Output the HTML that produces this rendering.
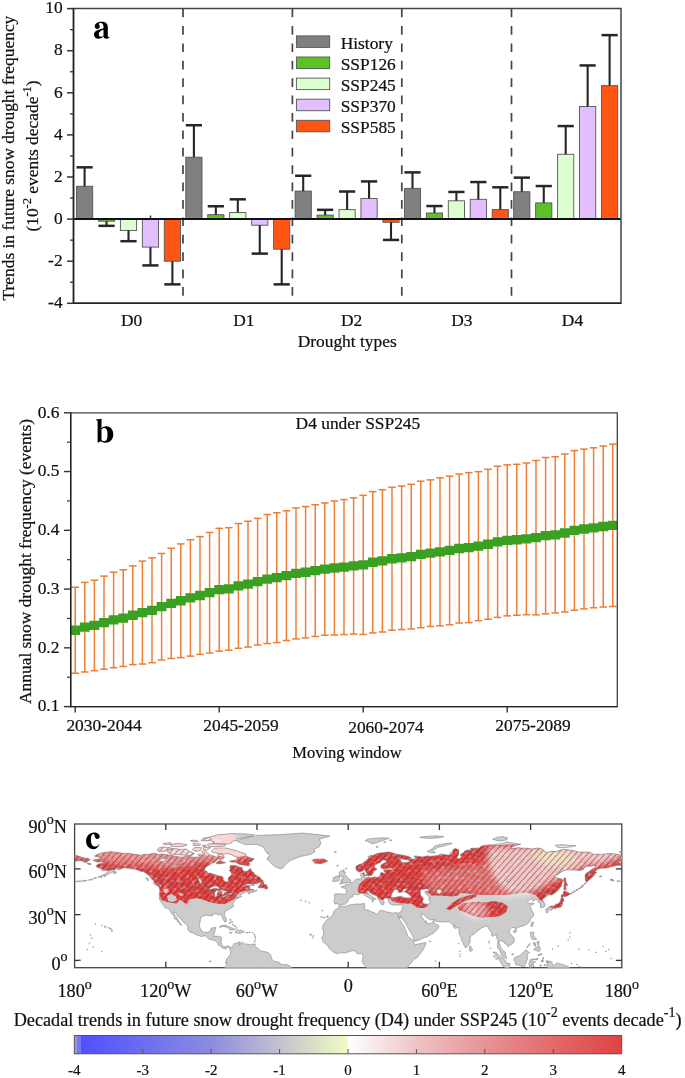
<!DOCTYPE html><html><head><meta charset="utf-8"><style>html,body{margin:0;padding:0;background:#fff;width:685px;height:1078px;overflow:hidden}svg{display:block;will-change:transform}text{font-family:"Liberation Serif",serif;fill:#111;stroke:#111;stroke-width:0.22px}</style></head><body><svg width="685" height="1078" viewBox="0 0 685 1078" font-family='"Liberation Serif", serif' fill="#111"><rect x="76.5" y="186.26" width="16.2" height="32.84" fill="#808080" stroke="#555" stroke-width="0.9" />
<line x1="84.6" y1="186.26" x2="84.6" y2="167.32" stroke="#262626" stroke-width="2.1" />
<line x1="76.5" y1="167.32" x2="92.7" y2="167.32" stroke="#262626" stroke-width="2.5" />
<rect x="98.45" y="219.1" width="16.2" height="2.1" fill="#5cc227" stroke="#555" stroke-width="0.9" />
<line x1="106.55" y1="221.2" x2="106.55" y2="225.84" stroke="#262626" stroke-width="2.1" />
<line x1="98.45" y1="225.84" x2="114.65" y2="225.84" stroke="#262626" stroke-width="2.5" />
<rect x="120.4" y="219.1" width="16.2" height="11.37" fill="#dcffd2" stroke="#555" stroke-width="0.9" />
<line x1="128.5" y1="230.47" x2="128.5" y2="241.2" stroke="#262626" stroke-width="2.1" />
<line x1="120.4" y1="241.2" x2="136.6" y2="241.2" stroke="#262626" stroke-width="2.5" />
<rect x="142.35" y="219.1" width="16.2" height="28" fill="#e4bfff" stroke="#555" stroke-width="0.9" />
<line x1="150.45" y1="247.1" x2="150.45" y2="265.41" stroke="#262626" stroke-width="2.1" />
<line x1="142.35" y1="265.41" x2="158.55" y2="265.41" stroke="#262626" stroke-width="2.5" />
<rect x="164.3" y="219.1" width="16.2" height="42.1" fill="#ff5616" stroke="#555" stroke-width="0.9" />
<line x1="172.4" y1="261.2" x2="172.4" y2="284.36" stroke="#262626" stroke-width="2.1" />
<line x1="164.3" y1="284.36" x2="180.5" y2="284.36" stroke="#262626" stroke-width="2.5" />
<rect x="185.8" y="157.21" width="16.2" height="61.89" fill="#808080" stroke="#555" stroke-width="0.9" />
<line x1="193.9" y1="157.21" x2="193.9" y2="125.22" stroke="#262626" stroke-width="2.1" />
<line x1="185.8" y1="125.22" x2="202" y2="125.22" stroke="#262626" stroke-width="2.5" />
<rect x="207.75" y="214.68" width="16.2" height="4.42" fill="#5cc227" stroke="#555" stroke-width="0.9" />
<line x1="215.85" y1="214.68" x2="215.85" y2="206.26" stroke="#262626" stroke-width="2.1" />
<line x1="207.75" y1="206.26" x2="223.95" y2="206.26" stroke="#262626" stroke-width="2.5" />
<rect x="229.7" y="212.57" width="16.2" height="6.53" fill="#dcffd2" stroke="#555" stroke-width="0.9" />
<line x1="237.8" y1="212.57" x2="237.8" y2="199.31" stroke="#262626" stroke-width="2.1" />
<line x1="229.7" y1="199.31" x2="245.9" y2="199.31" stroke="#262626" stroke-width="2.5" />
<rect x="251.65" y="219.1" width="16.2" height="6.1" fill="#e4bfff" stroke="#555" stroke-width="0.9" />
<line x1="259.75" y1="225.2" x2="259.75" y2="253.62" stroke="#262626" stroke-width="2.1" />
<line x1="251.65" y1="253.62" x2="267.85" y2="253.62" stroke="#262626" stroke-width="2.5" />
<rect x="273.6" y="219.1" width="16.2" height="30.1" fill="#ff5616" stroke="#555" stroke-width="0.9" />
<line x1="281.7" y1="249.2" x2="281.7" y2="284.36" stroke="#262626" stroke-width="2.1" />
<line x1="273.6" y1="284.36" x2="289.8" y2="284.36" stroke="#262626" stroke-width="2.5" />
<rect x="295.1" y="191.1" width="16.2" height="28" fill="#808080" stroke="#555" stroke-width="0.9" />
<line x1="303.2" y1="191.1" x2="303.2" y2="175.74" stroke="#262626" stroke-width="2.1" />
<line x1="295.1" y1="175.74" x2="311.3" y2="175.74" stroke="#262626" stroke-width="2.5" />
<rect x="317.05" y="215.1" width="16.2" height="4" fill="#5cc227" stroke="#555" stroke-width="0.9" />
<line x1="325.15" y1="215.1" x2="325.15" y2="209.84" stroke="#262626" stroke-width="2.1" />
<line x1="317.05" y1="209.84" x2="333.25" y2="209.84" stroke="#262626" stroke-width="2.5" />
<rect x="339" y="209.63" width="16.2" height="9.47" fill="#dcffd2" stroke="#555" stroke-width="0.9" />
<line x1="347.1" y1="209.63" x2="347.1" y2="191.52" stroke="#262626" stroke-width="2.1" />
<line x1="339" y1="191.52" x2="355.2" y2="191.52" stroke="#262626" stroke-width="2.5" />
<rect x="360.95" y="198.47" width="16.2" height="20.63" fill="#e4bfff" stroke="#555" stroke-width="0.9" />
<line x1="369.05" y1="198.47" x2="369.05" y2="181.42" stroke="#262626" stroke-width="2.1" />
<line x1="360.95" y1="181.42" x2="377.15" y2="181.42" stroke="#262626" stroke-width="2.5" />
<rect x="382.9" y="219.1" width="16.2" height="3.16" fill="#ff5616" stroke="#555" stroke-width="0.9" />
<line x1="391" y1="222.26" x2="391" y2="239.94" stroke="#262626" stroke-width="2.1" />
<line x1="382.9" y1="239.94" x2="399.1" y2="239.94" stroke="#262626" stroke-width="2.5" />
<rect x="404.4" y="188.37" width="16.2" height="30.73" fill="#808080" stroke="#555" stroke-width="0.9" />
<line x1="412.5" y1="188.37" x2="412.5" y2="172.37" stroke="#262626" stroke-width="2.1" />
<line x1="404.4" y1="172.37" x2="420.6" y2="172.37" stroke="#262626" stroke-width="2.5" />
<rect x="426.35" y="213" width="16.2" height="6.1" fill="#5cc227" stroke="#555" stroke-width="0.9" />
<line x1="434.45" y1="213" x2="434.45" y2="206.05" stroke="#262626" stroke-width="2.1" />
<line x1="426.35" y1="206.05" x2="442.55" y2="206.05" stroke="#262626" stroke-width="2.5" />
<rect x="448.3" y="200.79" width="16.2" height="18.31" fill="#dcffd2" stroke="#555" stroke-width="0.9" />
<line x1="456.4" y1="200.79" x2="456.4" y2="191.95" stroke="#262626" stroke-width="2.1" />
<line x1="448.3" y1="191.95" x2="464.5" y2="191.95" stroke="#262626" stroke-width="2.5" />
<rect x="470.25" y="199.31" width="16.2" height="19.79" fill="#e4bfff" stroke="#555" stroke-width="0.9" />
<line x1="478.35" y1="199.31" x2="478.35" y2="182.05" stroke="#262626" stroke-width="2.1" />
<line x1="470.25" y1="182.05" x2="486.45" y2="182.05" stroke="#262626" stroke-width="2.5" />
<rect x="492.2" y="209.63" width="16.2" height="9.47" fill="#ff5616" stroke="#555" stroke-width="0.9" />
<line x1="500.3" y1="209.63" x2="500.3" y2="187.31" stroke="#262626" stroke-width="2.1" />
<line x1="492.2" y1="187.31" x2="508.4" y2="187.31" stroke="#262626" stroke-width="2.5" />
<rect x="513.7" y="191.73" width="16.2" height="27.37" fill="#808080" stroke="#555" stroke-width="0.9" />
<line x1="521.8" y1="191.73" x2="521.8" y2="177.63" stroke="#262626" stroke-width="2.1" />
<line x1="513.7" y1="177.63" x2="529.9" y2="177.63" stroke="#262626" stroke-width="2.5" />
<rect x="535.65" y="202.89" width="16.2" height="16.21" fill="#5cc227" stroke="#555" stroke-width="0.9" />
<line x1="543.75" y1="202.89" x2="543.75" y2="186.05" stroke="#262626" stroke-width="2.1" />
<line x1="535.65" y1="186.05" x2="551.85" y2="186.05" stroke="#262626" stroke-width="2.5" />
<rect x="557.6" y="154.27" width="16.2" height="64.83" fill="#dcffd2" stroke="#555" stroke-width="0.9" />
<line x1="565.7" y1="154.27" x2="565.7" y2="126.06" stroke="#262626" stroke-width="2.1" />
<line x1="557.6" y1="126.06" x2="573.8" y2="126.06" stroke="#262626" stroke-width="2.5" />
<rect x="579.55" y="106.48" width="16.2" height="112.62" fill="#e4bfff" stroke="#555" stroke-width="0.9" />
<line x1="587.65" y1="106.48" x2="587.65" y2="65.44" stroke="#262626" stroke-width="2.1" />
<line x1="579.55" y1="65.44" x2="595.75" y2="65.44" stroke="#262626" stroke-width="2.5" />
<rect x="601.5" y="85.64" width="16.2" height="133.46" fill="#ff5616" stroke="#555" stroke-width="0.9" />
<line x1="609.6" y1="85.64" x2="609.6" y2="35.12" stroke="#262626" stroke-width="2.1" />
<line x1="601.5" y1="35.12" x2="617.7" y2="35.12" stroke="#262626" stroke-width="2.5" />
<line x1="150.45" y1="219.1" x2="150.45" y2="215.52" stroke="#333" stroke-width="1.5" />
<line x1="183" y1="8.6" x2="183" y2="303.3" stroke="#444" stroke-width="1.7" stroke-dasharray="8.7 8.7"/>
<line x1="292.4" y1="8.6" x2="292.4" y2="303.3" stroke="#444" stroke-width="1.7" stroke-dasharray="8.7 8.7"/>
<line x1="401.8" y1="8.6" x2="401.8" y2="303.3" stroke="#444" stroke-width="1.7" stroke-dasharray="8.7 8.7"/>
<line x1="511.5" y1="8.6" x2="511.5" y2="303.3" stroke="#444" stroke-width="1.7" stroke-dasharray="8.7 8.7"/>
<line x1="73.5" y1="219.1" x2="621" y2="219.1" stroke="#111" stroke-width="2" />
<path d="M73.5 8.6H621V303.3H73.5Z" fill="none" stroke="#444" stroke-width="1.5"/>
<line x1="73.5" y1="7.9" x2="73.5" y2="304" stroke="#222" stroke-width="1.5" />
<line x1="73.5" y1="303.3" x2="621" y2="303.3" stroke="#222" stroke-width="1.5" />
<line x1="67" y1="303.3" x2="73.5" y2="303.3" stroke="#333" stroke-width="1.5" />
<text x="62.6" y="308" font-size="17.4" text-anchor="end" font-weight="normal" >-4</text>
<line x1="70" y1="282.25" x2="73.5" y2="282.25" stroke="#333" stroke-width="1.3" />
<line x1="67" y1="261.2" x2="73.5" y2="261.2" stroke="#333" stroke-width="1.5" />
<text x="62.6" y="265.9" font-size="17.4" text-anchor="end" font-weight="normal" >-2</text>
<line x1="70" y1="240.15" x2="73.5" y2="240.15" stroke="#333" stroke-width="1.3" />
<line x1="67" y1="219.1" x2="73.5" y2="219.1" stroke="#333" stroke-width="1.5" />
<text x="62.6" y="223.8" font-size="17.4" text-anchor="end" font-weight="normal" >0</text>
<line x1="70" y1="198.05" x2="73.5" y2="198.05" stroke="#333" stroke-width="1.3" />
<line x1="67" y1="177" x2="73.5" y2="177" stroke="#333" stroke-width="1.5" />
<text x="62.6" y="181.7" font-size="17.4" text-anchor="end" font-weight="normal" >2</text>
<line x1="70" y1="155.95" x2="73.5" y2="155.95" stroke="#333" stroke-width="1.3" />
<line x1="67" y1="134.9" x2="73.5" y2="134.9" stroke="#333" stroke-width="1.5" />
<text x="62.6" y="139.6" font-size="17.4" text-anchor="end" font-weight="normal" >4</text>
<line x1="70" y1="113.85" x2="73.5" y2="113.85" stroke="#333" stroke-width="1.3" />
<line x1="67" y1="92.8" x2="73.5" y2="92.8" stroke="#333" stroke-width="1.5" />
<text x="62.6" y="97.5" font-size="17.4" text-anchor="end" font-weight="normal" >6</text>
<line x1="70" y1="71.75" x2="73.5" y2="71.75" stroke="#333" stroke-width="1.3" />
<line x1="67" y1="50.7" x2="73.5" y2="50.7" stroke="#333" stroke-width="1.5" />
<text x="62.6" y="55.4" font-size="17.4" text-anchor="end" font-weight="normal" >8</text>
<line x1="70" y1="29.65" x2="73.5" y2="29.65" stroke="#333" stroke-width="1.3" />
<line x1="67" y1="8.6" x2="73.5" y2="8.6" stroke="#333" stroke-width="1.5" />
<text x="62.6" y="13.3" font-size="17.4" text-anchor="end" font-weight="normal" >10</text>
<rect x="296.4" y="35.9" width="33.3" height="11.5" fill="#808080" stroke="#555" stroke-width="0.9" />
<text x="340.7" y="48.6" font-size="17.4" text-anchor="start" font-weight="normal" >History</text>
<rect x="296.4" y="57" width="33.3" height="11.5" fill="#5cc227" stroke="#555" stroke-width="0.9" />
<text x="340.7" y="69.7" font-size="17.4" text-anchor="start" font-weight="normal" >SSP126</text>
<rect x="296.4" y="78.1" width="33.3" height="11.5" fill="#dcffd2" stroke="#555" stroke-width="0.9" />
<text x="340.7" y="90.8" font-size="17.4" text-anchor="start" font-weight="normal" >SSP245</text>
<rect x="296.4" y="99.2" width="33.3" height="11.5" fill="#e4bfff" stroke="#555" stroke-width="0.9" />
<text x="340.7" y="111.9" font-size="17.4" text-anchor="start" font-weight="normal" >SSP370</text>
<rect x="296.4" y="120.3" width="33.3" height="11.5" fill="#ff5616" stroke="#555" stroke-width="0.9" />
<text x="340.7" y="133" font-size="17.4" text-anchor="start" font-weight="normal" >SSP585</text>
<text x="131.6" y="325.6" font-size="17.4" text-anchor="middle" font-weight="normal" >D0</text>
<text x="243.9" y="325.6" font-size="17.4" text-anchor="middle" font-weight="normal" >D1</text>
<text x="351.7" y="325.6" font-size="17.4" text-anchor="middle" font-weight="normal" >D2</text>
<text x="461.9" y="325.6" font-size="17.4" text-anchor="middle" font-weight="normal" >D3</text>
<text x="572.5" y="325.6" font-size="17.4" text-anchor="middle" font-weight="normal" >D4</text>
<text x="347.2" y="346.6" font-size="17.4" text-anchor="middle" font-weight="normal" >Drought types</text>
<path transform="translate(94,21.7)" fill-rule="evenodd" fill="#000" d="M0.8 4.5C0.8 1.5 4 0 7.5 0C11.5 0 13.8 1.8 13.8 5.5L13.8 13.5C13.8 14.8 14.2 15.3 15 15.3L16 14.6C15 16.5 13.8 17 12.5 17C10.5 17 9.7 16 9.5 14.8C8 16.3 6.3 17 4.5 17C1.8 17 0 15.4 0 12.8C0 10.5 1.5 9.3 4 8.3C5.8 7.6 7.8 7 9.5 6.6L9.5 5.2C9.5 2.5 8.5 1.3 6.8 1.3C5.5 1.3 4.8 1.8 4.6 2.6C5.3 3 5.8 3.8 5.8 4.8C5.8 6.2 4.6 7.2 3.3 7.2C1.8 7.2 0.8 6.2 0.8 4.5Z M9.5 8C6.5 9 4.8 10.2 4.8 12.6C4.8 14.3 5.8 15.1 7 15.1C8 15.1 8.9 14.6 9.5 14Z"/>
<text transform="translate(13.8,158.1) rotate(-90)" font-size="17.4" text-anchor="middle">Trends in future snow drought frequency</text>
<text transform="translate(38.2,156) rotate(-90)" font-size="17.4" text-anchor="middle">(10<tspan dy="-6.8" font-size="12.5">-2</tspan><tspan dy="6.8"> events decade</tspan><tspan dy="-6.8" font-size="12.5">-1</tspan><tspan dy="6.8">)</tspan></text>
<line x1="75.2" y1="587.2" x2="75.2" y2="673.28" stroke="#ed7d31" stroke-width="1.5" />
<line x1="71.4" y1="587.2" x2="79" y2="587.2" stroke="#ed7d31" stroke-width="1.5" />
<line x1="71.4" y1="673.28" x2="79" y2="673.28" stroke="#ed7d31" stroke-width="1.5" />
<line x1="84.8" y1="582.39" x2="84.8" y2="671.99" stroke="#ed7d31" stroke-width="1.5" />
<line x1="81" y1="582.39" x2="88.6" y2="582.39" stroke="#ed7d31" stroke-width="1.5" />
<line x1="81" y1="671.99" x2="88.6" y2="671.99" stroke="#ed7d31" stroke-width="1.5" />
<line x1="94.4" y1="580.22" x2="94.4" y2="670.7" stroke="#ed7d31" stroke-width="1.5" />
<line x1="90.6" y1="580.22" x2="98.2" y2="580.22" stroke="#ed7d31" stroke-width="1.5" />
<line x1="90.6" y1="670.7" x2="98.2" y2="670.7" stroke="#ed7d31" stroke-width="1.5" />
<line x1="104" y1="576.11" x2="104" y2="669.17" stroke="#ed7d31" stroke-width="1.5" />
<line x1="100.2" y1="576.11" x2="107.8" y2="576.11" stroke="#ed7d31" stroke-width="1.5" />
<line x1="100.2" y1="669.17" x2="107.8" y2="669.17" stroke="#ed7d31" stroke-width="1.5" />
<line x1="113.6" y1="572.18" x2="113.6" y2="667.71" stroke="#ed7d31" stroke-width="1.5" />
<line x1="109.8" y1="572.18" x2="117.4" y2="572.18" stroke="#ed7d31" stroke-width="1.5" />
<line x1="109.8" y1="667.71" x2="117.4" y2="667.71" stroke="#ed7d31" stroke-width="1.5" />
<line x1="123.2" y1="569.78" x2="123.2" y2="666.48" stroke="#ed7d31" stroke-width="1.5" />
<line x1="119.4" y1="569.78" x2="127" y2="569.78" stroke="#ed7d31" stroke-width="1.5" />
<line x1="119.4" y1="666.48" x2="127" y2="666.48" stroke="#ed7d31" stroke-width="1.5" />
<line x1="132.8" y1="565.91" x2="132.8" y2="664.6" stroke="#ed7d31" stroke-width="1.5" />
<line x1="129" y1="565.91" x2="136.6" y2="565.91" stroke="#ed7d31" stroke-width="1.5" />
<line x1="129" y1="664.6" x2="136.6" y2="664.6" stroke="#ed7d31" stroke-width="1.5" />
<line x1="142.4" y1="561.1" x2="142.4" y2="664.01" stroke="#ed7d31" stroke-width="1.5" />
<line x1="138.6" y1="561.1" x2="146.2" y2="561.1" stroke="#ed7d31" stroke-width="1.5" />
<line x1="138.6" y1="664.01" x2="146.2" y2="664.01" stroke="#ed7d31" stroke-width="1.5" />
<line x1="152" y1="557.88" x2="152" y2="662.72" stroke="#ed7d31" stroke-width="1.5" />
<line x1="148.2" y1="557.88" x2="155.8" y2="557.88" stroke="#ed7d31" stroke-width="1.5" />
<line x1="148.2" y1="662.72" x2="155.8" y2="662.72" stroke="#ed7d31" stroke-width="1.5" />
<line x1="161.6" y1="553.48" x2="161.6" y2="659.97" stroke="#ed7d31" stroke-width="1.5" />
<line x1="157.8" y1="553.48" x2="165.4" y2="553.48" stroke="#ed7d31" stroke-width="1.5" />
<line x1="157.8" y1="659.97" x2="165.4" y2="659.97" stroke="#ed7d31" stroke-width="1.5" />
<line x1="171.2" y1="548.2" x2="171.2" y2="658.5" stroke="#ed7d31" stroke-width="1.5" />
<line x1="167.4" y1="548.2" x2="175" y2="548.2" stroke="#ed7d31" stroke-width="1.5" />
<line x1="167.4" y1="658.5" x2="175" y2="658.5" stroke="#ed7d31" stroke-width="1.5" />
<line x1="180.8" y1="543.92" x2="180.8" y2="657.62" stroke="#ed7d31" stroke-width="1.5" />
<line x1="177" y1="543.92" x2="184.6" y2="543.92" stroke="#ed7d31" stroke-width="1.5" />
<line x1="177" y1="657.62" x2="184.6" y2="657.62" stroke="#ed7d31" stroke-width="1.5" />
<line x1="190.4" y1="539.81" x2="190.4" y2="656.1" stroke="#ed7d31" stroke-width="1.5" />
<line x1="186.6" y1="539.81" x2="194.2" y2="539.81" stroke="#ed7d31" stroke-width="1.5" />
<line x1="186.6" y1="656.1" x2="194.2" y2="656.1" stroke="#ed7d31" stroke-width="1.5" />
<line x1="200" y1="536.59" x2="200" y2="654.4" stroke="#ed7d31" stroke-width="1.5" />
<line x1="196.2" y1="536.59" x2="203.8" y2="536.59" stroke="#ed7d31" stroke-width="1.5" />
<line x1="196.2" y1="654.4" x2="203.8" y2="654.4" stroke="#ed7d31" stroke-width="1.5" />
<line x1="209.6" y1="532.43" x2="209.6" y2="652.99" stroke="#ed7d31" stroke-width="1.5" />
<line x1="205.8" y1="532.43" x2="213.4" y2="532.43" stroke="#ed7d31" stroke-width="1.5" />
<line x1="205.8" y1="652.99" x2="213.4" y2="652.99" stroke="#ed7d31" stroke-width="1.5" />
<line x1="219.2" y1="528.32" x2="219.2" y2="651.11" stroke="#ed7d31" stroke-width="1.5" />
<line x1="215.4" y1="528.32" x2="223" y2="528.32" stroke="#ed7d31" stroke-width="1.5" />
<line x1="215.4" y1="651.11" x2="223" y2="651.11" stroke="#ed7d31" stroke-width="1.5" />
<line x1="228.8" y1="527.68" x2="228.8" y2="650.17" stroke="#ed7d31" stroke-width="1.5" />
<line x1="225" y1="527.68" x2="232.6" y2="527.68" stroke="#ed7d31" stroke-width="1.5" />
<line x1="225" y1="650.17" x2="232.6" y2="650.17" stroke="#ed7d31" stroke-width="1.5" />
<line x1="238.4" y1="523.57" x2="238.4" y2="648.3" stroke="#ed7d31" stroke-width="1.5" />
<line x1="234.6" y1="523.57" x2="242.2" y2="523.57" stroke="#ed7d31" stroke-width="1.5" />
<line x1="234.6" y1="648.3" x2="242.2" y2="648.3" stroke="#ed7d31" stroke-width="1.5" />
<line x1="248" y1="521.23" x2="248" y2="647.01" stroke="#ed7d31" stroke-width="1.5" />
<line x1="244.2" y1="521.23" x2="251.8" y2="521.23" stroke="#ed7d31" stroke-width="1.5" />
<line x1="244.2" y1="647.01" x2="251.8" y2="647.01" stroke="#ed7d31" stroke-width="1.5" />
<line x1="257.6" y1="518.41" x2="257.6" y2="645.01" stroke="#ed7d31" stroke-width="1.5" />
<line x1="253.8" y1="518.41" x2="261.4" y2="518.41" stroke="#ed7d31" stroke-width="1.5" />
<line x1="253.8" y1="645.01" x2="261.4" y2="645.01" stroke="#ed7d31" stroke-width="1.5" />
<line x1="267.2" y1="514.54" x2="267.2" y2="643.55" stroke="#ed7d31" stroke-width="1.5" />
<line x1="263.4" y1="514.54" x2="271" y2="514.54" stroke="#ed7d31" stroke-width="1.5" />
<line x1="263.4" y1="643.55" x2="271" y2="643.55" stroke="#ed7d31" stroke-width="1.5" />
<line x1="276.8" y1="512.72" x2="276.8" y2="642.61" stroke="#ed7d31" stroke-width="1.5" />
<line x1="273" y1="512.72" x2="280.6" y2="512.72" stroke="#ed7d31" stroke-width="1.5" />
<line x1="273" y1="642.61" x2="280.6" y2="642.61" stroke="#ed7d31" stroke-width="1.5" />
<line x1="286.4" y1="510.73" x2="286.4" y2="640.5" stroke="#ed7d31" stroke-width="1.5" />
<line x1="282.6" y1="510.73" x2="290.2" y2="510.73" stroke="#ed7d31" stroke-width="1.5" />
<line x1="282.6" y1="640.5" x2="290.2" y2="640.5" stroke="#ed7d31" stroke-width="1.5" />
<line x1="296" y1="507.91" x2="296" y2="638.92" stroke="#ed7d31" stroke-width="1.5" />
<line x1="292.2" y1="507.91" x2="299.8" y2="507.91" stroke="#ed7d31" stroke-width="1.5" />
<line x1="292.2" y1="638.92" x2="299.8" y2="638.92" stroke="#ed7d31" stroke-width="1.5" />
<line x1="305.6" y1="506.62" x2="305.6" y2="637.92" stroke="#ed7d31" stroke-width="1.5" />
<line x1="301.8" y1="506.62" x2="309.4" y2="506.62" stroke="#ed7d31" stroke-width="1.5" />
<line x1="301.8" y1="637.92" x2="309.4" y2="637.92" stroke="#ed7d31" stroke-width="1.5" />
<line x1="315.2" y1="504.69" x2="315.2" y2="636.51" stroke="#ed7d31" stroke-width="1.5" />
<line x1="311.4" y1="504.69" x2="319" y2="504.69" stroke="#ed7d31" stroke-width="1.5" />
<line x1="311.4" y1="636.51" x2="319" y2="636.51" stroke="#ed7d31" stroke-width="1.5" />
<line x1="324.8" y1="502.93" x2="324.8" y2="635.22" stroke="#ed7d31" stroke-width="1.5" />
<line x1="321" y1="502.93" x2="328.6" y2="502.93" stroke="#ed7d31" stroke-width="1.5" />
<line x1="321" y1="635.22" x2="328.6" y2="635.22" stroke="#ed7d31" stroke-width="1.5" />
<line x1="334.4" y1="500.99" x2="334.4" y2="634.99" stroke="#ed7d31" stroke-width="1.5" />
<line x1="330.6" y1="500.99" x2="338.2" y2="500.99" stroke="#ed7d31" stroke-width="1.5" />
<line x1="330.6" y1="634.99" x2="338.2" y2="634.99" stroke="#ed7d31" stroke-width="1.5" />
<line x1="344" y1="499.53" x2="344" y2="634.58" stroke="#ed7d31" stroke-width="1.5" />
<line x1="340.2" y1="499.53" x2="347.8" y2="499.53" stroke="#ed7d31" stroke-width="1.5" />
<line x1="340.2" y1="634.58" x2="347.8" y2="634.58" stroke="#ed7d31" stroke-width="1.5" />
<line x1="353.6" y1="497.89" x2="353.6" y2="634.05" stroke="#ed7d31" stroke-width="1.5" />
<line x1="349.8" y1="497.89" x2="357.4" y2="497.89" stroke="#ed7d31" stroke-width="1.5" />
<line x1="349.8" y1="634.05" x2="357.4" y2="634.05" stroke="#ed7d31" stroke-width="1.5" />
<line x1="363.2" y1="495.31" x2="363.2" y2="634.4" stroke="#ed7d31" stroke-width="1.5" />
<line x1="359.4" y1="495.31" x2="367" y2="495.31" stroke="#ed7d31" stroke-width="1.5" />
<line x1="359.4" y1="634.4" x2="367" y2="634.4" stroke="#ed7d31" stroke-width="1.5" />
<line x1="372.8" y1="491.61" x2="372.8" y2="632.88" stroke="#ed7d31" stroke-width="1.5" />
<line x1="369" y1="491.61" x2="376.6" y2="491.61" stroke="#ed7d31" stroke-width="1.5" />
<line x1="369" y1="632.88" x2="376.6" y2="632.88" stroke="#ed7d31" stroke-width="1.5" />
<line x1="382.4" y1="489.68" x2="382.4" y2="632" stroke="#ed7d31" stroke-width="1.5" />
<line x1="378.6" y1="489.68" x2="386.2" y2="489.68" stroke="#ed7d31" stroke-width="1.5" />
<line x1="378.6" y1="632" x2="386.2" y2="632" stroke="#ed7d31" stroke-width="1.5" />
<line x1="392" y1="487.27" x2="392" y2="630.18" stroke="#ed7d31" stroke-width="1.5" />
<line x1="388.2" y1="487.27" x2="395.8" y2="487.27" stroke="#ed7d31" stroke-width="1.5" />
<line x1="388.2" y1="630.18" x2="395.8" y2="630.18" stroke="#ed7d31" stroke-width="1.5" />
<line x1="401.6" y1="485.98" x2="401.6" y2="629.59" stroke="#ed7d31" stroke-width="1.5" />
<line x1="397.8" y1="485.98" x2="405.4" y2="485.98" stroke="#ed7d31" stroke-width="1.5" />
<line x1="397.8" y1="629.59" x2="405.4" y2="629.59" stroke="#ed7d31" stroke-width="1.5" />
<line x1="411.2" y1="484.22" x2="411.2" y2="628.89" stroke="#ed7d31" stroke-width="1.5" />
<line x1="407.4" y1="484.22" x2="415" y2="484.22" stroke="#ed7d31" stroke-width="1.5" />
<line x1="407.4" y1="628.89" x2="415" y2="628.89" stroke="#ed7d31" stroke-width="1.5" />
<line x1="420.8" y1="481.17" x2="420.8" y2="627.77" stroke="#ed7d31" stroke-width="1.5" />
<line x1="417" y1="481.17" x2="424.6" y2="481.17" stroke="#ed7d31" stroke-width="1.5" />
<line x1="417" y1="627.77" x2="424.6" y2="627.77" stroke="#ed7d31" stroke-width="1.5" />
<line x1="430.4" y1="479.88" x2="430.4" y2="626.48" stroke="#ed7d31" stroke-width="1.5" />
<line x1="426.6" y1="479.88" x2="434.2" y2="479.88" stroke="#ed7d31" stroke-width="1.5" />
<line x1="426.6" y1="626.48" x2="434.2" y2="626.48" stroke="#ed7d31" stroke-width="1.5" />
<line x1="440" y1="477.83" x2="440" y2="625.78" stroke="#ed7d31" stroke-width="1.5" />
<line x1="436.2" y1="477.83" x2="443.8" y2="477.83" stroke="#ed7d31" stroke-width="1.5" />
<line x1="436.2" y1="625.78" x2="443.8" y2="625.78" stroke="#ed7d31" stroke-width="1.5" />
<line x1="449.6" y1="476.13" x2="449.6" y2="624.72" stroke="#ed7d31" stroke-width="1.5" />
<line x1="445.8" y1="476.13" x2="453.4" y2="476.13" stroke="#ed7d31" stroke-width="1.5" />
<line x1="445.8" y1="624.72" x2="453.4" y2="624.72" stroke="#ed7d31" stroke-width="1.5" />
<line x1="459.2" y1="474.02" x2="459.2" y2="623.02" stroke="#ed7d31" stroke-width="1.5" />
<line x1="455.4" y1="474.02" x2="463" y2="474.02" stroke="#ed7d31" stroke-width="1.5" />
<line x1="455.4" y1="623.02" x2="463" y2="623.02" stroke="#ed7d31" stroke-width="1.5" />
<line x1="468.8" y1="472.67" x2="468.8" y2="622.61" stroke="#ed7d31" stroke-width="1.5" />
<line x1="465" y1="472.67" x2="472.6" y2="472.67" stroke="#ed7d31" stroke-width="1.5" />
<line x1="465" y1="622.61" x2="472.6" y2="622.61" stroke="#ed7d31" stroke-width="1.5" />
<line x1="478.4" y1="471.67" x2="478.4" y2="620.68" stroke="#ed7d31" stroke-width="1.5" />
<line x1="474.6" y1="471.67" x2="482.2" y2="471.67" stroke="#ed7d31" stroke-width="1.5" />
<line x1="474.6" y1="620.68" x2="482.2" y2="620.68" stroke="#ed7d31" stroke-width="1.5" />
<line x1="488" y1="469.27" x2="488" y2="619.21" stroke="#ed7d31" stroke-width="1.5" />
<line x1="484.2" y1="469.27" x2="491.8" y2="469.27" stroke="#ed7d31" stroke-width="1.5" />
<line x1="484.2" y1="619.21" x2="491.8" y2="619.21" stroke="#ed7d31" stroke-width="1.5" />
<line x1="497.6" y1="466.22" x2="497.6" y2="617.39" stroke="#ed7d31" stroke-width="1.5" />
<line x1="493.8" y1="466.22" x2="501.4" y2="466.22" stroke="#ed7d31" stroke-width="1.5" />
<line x1="493.8" y1="617.39" x2="501.4" y2="617.39" stroke="#ed7d31" stroke-width="1.5" />
<line x1="507.2" y1="464.87" x2="507.2" y2="615.87" stroke="#ed7d31" stroke-width="1.5" />
<line x1="503.4" y1="464.87" x2="511" y2="464.87" stroke="#ed7d31" stroke-width="1.5" />
<line x1="503.4" y1="615.87" x2="511" y2="615.87" stroke="#ed7d31" stroke-width="1.5" />
<line x1="516.8" y1="464.29" x2="516.8" y2="615.23" stroke="#ed7d31" stroke-width="1.5" />
<line x1="513" y1="464.29" x2="520.6" y2="464.29" stroke="#ed7d31" stroke-width="1.5" />
<line x1="513" y1="615.23" x2="520.6" y2="615.23" stroke="#ed7d31" stroke-width="1.5" />
<line x1="526.4" y1="463" x2="526.4" y2="614.7" stroke="#ed7d31" stroke-width="1.5" />
<line x1="522.6" y1="463" x2="530.2" y2="463" stroke="#ed7d31" stroke-width="1.5" />
<line x1="522.6" y1="614.7" x2="530.2" y2="614.7" stroke="#ed7d31" stroke-width="1.5" />
<line x1="536" y1="460.53" x2="536" y2="614.87" stroke="#ed7d31" stroke-width="1.5" />
<line x1="532.2" y1="460.53" x2="539.8" y2="460.53" stroke="#ed7d31" stroke-width="1.5" />
<line x1="532.2" y1="614.87" x2="539.8" y2="614.87" stroke="#ed7d31" stroke-width="1.5" />
<line x1="545.6" y1="457.48" x2="545.6" y2="613.88" stroke="#ed7d31" stroke-width="1.5" />
<line x1="541.8" y1="457.48" x2="549.4" y2="457.48" stroke="#ed7d31" stroke-width="1.5" />
<line x1="541.8" y1="613.88" x2="549.4" y2="613.88" stroke="#ed7d31" stroke-width="1.5" />
<line x1="555.2" y1="456.72" x2="555.2" y2="612.88" stroke="#ed7d31" stroke-width="1.5" />
<line x1="551.4" y1="456.72" x2="559" y2="456.72" stroke="#ed7d31" stroke-width="1.5" />
<line x1="551.4" y1="612.88" x2="559" y2="612.88" stroke="#ed7d31" stroke-width="1.5" />
<line x1="564.8" y1="454.02" x2="564.8" y2="612" stroke="#ed7d31" stroke-width="1.5" />
<line x1="561" y1="454.02" x2="568.6" y2="454.02" stroke="#ed7d31" stroke-width="1.5" />
<line x1="561" y1="612" x2="568.6" y2="612" stroke="#ed7d31" stroke-width="1.5" />
<line x1="574.4" y1="450.62" x2="574.4" y2="610.18" stroke="#ed7d31" stroke-width="1.5" />
<line x1="570.6" y1="450.62" x2="578.2" y2="450.62" stroke="#ed7d31" stroke-width="1.5" />
<line x1="570.6" y1="610.18" x2="578.2" y2="610.18" stroke="#ed7d31" stroke-width="1.5" />
<line x1="584" y1="449.1" x2="584" y2="608.89" stroke="#ed7d31" stroke-width="1.5" />
<line x1="580.2" y1="449.1" x2="587.8" y2="449.1" stroke="#ed7d31" stroke-width="1.5" />
<line x1="580.2" y1="608.89" x2="587.8" y2="608.89" stroke="#ed7d31" stroke-width="1.5" />
<line x1="593.6" y1="447.81" x2="593.6" y2="607.78" stroke="#ed7d31" stroke-width="1.5" />
<line x1="589.8" y1="447.81" x2="597.4" y2="447.81" stroke="#ed7d31" stroke-width="1.5" />
<line x1="589.8" y1="607.78" x2="597.4" y2="607.78" stroke="#ed7d31" stroke-width="1.5" />
<line x1="603.2" y1="445.99" x2="603.2" y2="607.02" stroke="#ed7d31" stroke-width="1.5" />
<line x1="599.4" y1="445.99" x2="607" y2="445.99" stroke="#ed7d31" stroke-width="1.5" />
<line x1="599.4" y1="607.02" x2="607" y2="607.02" stroke="#ed7d31" stroke-width="1.5" />
<line x1="612.8" y1="444.11" x2="612.8" y2="606.49" stroke="#ed7d31" stroke-width="1.5" />
<line x1="609" y1="444.11" x2="616.6" y2="444.11" stroke="#ed7d31" stroke-width="1.5" />
<line x1="609" y1="606.49" x2="616.6" y2="606.49" stroke="#ed7d31" stroke-width="1.5" />
<path d="M70.30 625.59h9.8v9.3h-9.8ZM79.90 622.54h9.8v9.3h-9.8ZM89.50 620.81h9.8v9.3h-9.8ZM99.10 617.99h9.8v9.3h-9.8ZM108.70 615.30h9.8v9.3h-9.8ZM118.30 613.48h9.8v9.3h-9.8ZM127.90 610.60h9.8v9.3h-9.8ZM137.50 607.91h9.8v9.3h-9.8ZM147.10 605.65h9.8v9.3h-9.8ZM156.70 602.07h9.8v9.3h-9.8ZM166.30 598.70h9.8v9.3h-9.8ZM175.90 596.12h9.8v9.3h-9.8ZM185.50 593.31h9.8v9.3h-9.8ZM195.10 590.84h9.8v9.3h-9.8ZM204.70 588.06h9.8v9.3h-9.8ZM214.30 585.07h9.8v9.3h-9.8ZM223.90 584.28h9.8v9.3h-9.8ZM233.50 581.28h9.8v9.3h-9.8ZM243.10 579.47h9.8v9.3h-9.8ZM252.70 577.06h9.8v9.3h-9.8ZM262.30 574.39h9.8v9.3h-9.8ZM271.90 573.02h9.8v9.3h-9.8ZM281.50 570.96h9.8v9.3h-9.8ZM291.10 568.76h9.8v9.3h-9.8ZM300.70 567.62h9.8v9.3h-9.8ZM310.30 565.95h9.8v9.3h-9.8ZM319.90 564.43h9.8v9.3h-9.8ZM329.50 563.34h9.8v9.3h-9.8ZM339.10 562.40h9.8v9.3h-9.8ZM348.70 561.32h9.8v9.3h-9.8ZM358.30 560.20h9.8v9.3h-9.8ZM367.90 557.59h9.8v9.3h-9.8ZM377.50 556.19h9.8v9.3h-9.8ZM387.10 554.08h9.8v9.3h-9.8ZM396.70 553.14h9.8v9.3h-9.8ZM406.30 551.91h9.8v9.3h-9.8ZM415.90 549.82h9.8v9.3h-9.8ZM425.50 548.53h9.8v9.3h-9.8ZM435.10 547.16h9.8v9.3h-9.8ZM444.70 545.78h9.8v9.3h-9.8ZM454.30 543.87h9.8v9.3h-9.8ZM463.90 542.99h9.8v9.3h-9.8ZM473.50 541.53h9.8v9.3h-9.8ZM483.10 539.59h9.8v9.3h-9.8ZM492.70 537.16h9.8v9.3h-9.8ZM502.30 535.72h9.8v9.3h-9.8ZM511.90 535.11h9.8v9.3h-9.8ZM521.50 534.20h9.8v9.3h-9.8ZM531.10 533.05h9.8v9.3h-9.8ZM540.70 531.03h9.8v9.3h-9.8ZM550.30 530.15h9.8v9.3h-9.8ZM559.90 528.36h9.8v9.3h-9.8ZM569.50 525.75h9.8v9.3h-9.8ZM579.10 524.35h9.8v9.3h-9.8ZM588.70 523.14h9.8v9.3h-9.8ZM598.30 521.85h9.8v9.3h-9.8ZM607.90 520.65h9.8v9.3h-9.8Z" fill="#3aa022"/>
<path d="M70.7 412.8H617.3V706.6H70.7Z" fill="none" stroke="#444" stroke-width="1.3"/>
<line x1="70.7" y1="412.2" x2="70.7" y2="707.2" stroke="#222" stroke-width="1.4" />
<line x1="70.7" y1="706.6" x2="617.3" y2="706.6" stroke="#222" stroke-width="1.4" />
<line x1="64" y1="706.6" x2="70.7" y2="706.6" stroke="#333" stroke-width="1.4" />
<text x="59.4" y="711.4" font-size="17.4" text-anchor="end" font-weight="normal" >0.1</text>
<line x1="67" y1="677.22" x2="70.7" y2="677.22" stroke="#333" stroke-width="1.2" />
<line x1="64" y1="647.84" x2="70.7" y2="647.84" stroke="#333" stroke-width="1.4" />
<text x="59.4" y="652.64" font-size="17.4" text-anchor="end" font-weight="normal" >0.2</text>
<line x1="67" y1="618.46" x2="70.7" y2="618.46" stroke="#333" stroke-width="1.2" />
<line x1="64" y1="589.08" x2="70.7" y2="589.08" stroke="#333" stroke-width="1.4" />
<text x="59.4" y="593.88" font-size="17.4" text-anchor="end" font-weight="normal" >0.3</text>
<line x1="67" y1="559.7" x2="70.7" y2="559.7" stroke="#333" stroke-width="1.2" />
<line x1="64" y1="530.32" x2="70.7" y2="530.32" stroke="#333" stroke-width="1.4" />
<text x="59.4" y="535.12" font-size="17.4" text-anchor="end" font-weight="normal" >0.4</text>
<line x1="67" y1="500.94" x2="70.7" y2="500.94" stroke="#333" stroke-width="1.2" />
<line x1="64" y1="471.56" x2="70.7" y2="471.56" stroke="#333" stroke-width="1.4" />
<text x="59.4" y="476.36" font-size="17.4" text-anchor="end" font-weight="normal" >0.5</text>
<line x1="67" y1="442.18" x2="70.7" y2="442.18" stroke="#333" stroke-width="1.2" />
<line x1="64" y1="412.8" x2="70.7" y2="412.8" stroke="#333" stroke-width="1.4" />
<text x="59.4" y="417.6" font-size="17.4" text-anchor="end" font-weight="normal" >0.6</text>
<line x1="75.2" y1="706.6" x2="75.2" y2="712.6" stroke="#333" stroke-width="1.4" />
<text x="104.1" y="731.3" font-size="17.4" text-anchor="middle" font-weight="normal" >2030-2044</text>
<line x1="219.2" y1="706.6" x2="219.2" y2="712.6" stroke="#333" stroke-width="1.4" />
<text x="241" y="731.3" font-size="17.4" text-anchor="middle" font-weight="normal" >2045-2059</text>
<line x1="363.2" y1="706.6" x2="363.2" y2="712.6" stroke="#333" stroke-width="1.4" />
<text x="385.9" y="733" font-size="17.4" text-anchor="middle" font-weight="normal" >2060-2074</text>
<line x1="507.2" y1="706.6" x2="507.2" y2="712.6" stroke="#333" stroke-width="1.4" />
<text x="533" y="731.3" font-size="17.4" text-anchor="middle" font-weight="normal" >2075-2089</text>
<text x="347" y="758" font-size="16.5" text-anchor="middle" font-weight="normal" >Moving window</text>
<path transform="translate(95.9,418.7)" fill-rule="evenodd" fill="#000" d="M0 0.9L5.6 0L5.6 9.5C6.8 8.3 8.5 7.6 10.3 7.6C14.5 7.6 17.4 11 17.4 15.5C17.4 20.5 14 24 9.5 24C7.8 24 6 23.3 4.8 22.5L2 24L1.7 24L1.7 2.6C1.7 1.9 1.3 1.6 0 1.6Z M5.6 10.6L5.6 21.4C6.3 22.2 7.3 22.6 8.3 22.6C10.8 22.6 11.6 20 11.6 15.8C11.6 11.5 10.6 9.2 8.6 9.2C7.3 9.2 6.3 9.8 5.6 10.6Z"/>
<text x="295.6" y="429.2" font-size="17.4" text-anchor="start" font-weight="normal" >D4 under SSP245</text>
<text transform="translate(30.8,561.5) rotate(-90)" font-size="17.4" text-anchor="middle">Annual snow drought frequency (events)</text>
<rect x="74.6" y="824" width="547.2" height="143.7" fill="none" stroke="#444" stroke-width="1.3"/>
<line x1="74.6" y1="960.4" x2="80.6" y2="960.4" stroke="#333" stroke-width="1.3" />
<line x1="621.8" y1="960.4" x2="615.8" y2="960.4" stroke="#333" stroke-width="1.3" />
<line x1="74.6" y1="914.65" x2="80.6" y2="914.65" stroke="#333" stroke-width="1.3" />
<line x1="621.8" y1="914.65" x2="615.8" y2="914.65" stroke="#333" stroke-width="1.3" />
<line x1="74.6" y1="868.9" x2="80.6" y2="868.9" stroke="#333" stroke-width="1.3" />
<line x1="621.8" y1="868.9" x2="615.8" y2="868.9" stroke="#333" stroke-width="1.3" />
<line x1="165.8" y1="967.7" x2="165.8" y2="961.7" stroke="#333" stroke-width="1.3" />
<line x1="165.8" y1="824" x2="165.8" y2="830" stroke="#333" stroke-width="1.3" />
<line x1="257" y1="967.7" x2="257" y2="961.7" stroke="#333" stroke-width="1.3" />
<line x1="257" y1="824" x2="257" y2="830" stroke="#333" stroke-width="1.3" />
<line x1="348.2" y1="967.7" x2="348.2" y2="961.7" stroke="#333" stroke-width="1.3" />
<line x1="348.2" y1="824" x2="348.2" y2="830" stroke="#333" stroke-width="1.3" />
<line x1="439.4" y1="967.7" x2="439.4" y2="961.7" stroke="#333" stroke-width="1.3" />
<line x1="439.4" y1="824" x2="439.4" y2="830" stroke="#333" stroke-width="1.3" />
<line x1="530.6" y1="967.7" x2="530.6" y2="961.7" stroke="#333" stroke-width="1.3" />
<line x1="530.6" y1="824" x2="530.6" y2="830" stroke="#333" stroke-width="1.3" />
<g clip-path="url(#mclip)"><defs><clipPath id="landclip"><path d="M92.7 860.4L95.1 859.6L98.9 859.0L102.0 858.4L99.2 857.2L94.7 856.2L95.6 855.2L100.4 853.2L105.0 852.4L110.3 851.7L117.2 852.3L122.5 853.2L130.1 853.5L133.9 854.2L136.9 854.4L140.7 855.3L143.8 854.4L149.1 854.3L152.1 853.6L155.2 853.3L158.2 854.6L162.8 854.0L165.8 854.6L170.4 855.2L174.9 856.2L179.5 857.0L184.0 857.0L187.1 855.9L190.1 856.7L194.7 857.2L198.5 857.0L202.3 856.2L203.8 854.4L201.5 851.4L204.6 850.8L207.6 852.9L209.1 854.4L212.2 855.5L214.4 856.2L216.7 857.5L218.2 854.4L220.5 854.0L223.6 855.2L224.3 857.5L222.0 859.3L218.2 859.0L216.3 860.5L214.4 862.5L211.4 863.3L209.9 864.6L206.1 866.9L204.6 868.9L204.4 870.7L206.5 870.9L207.9 873.2L210.6 873.2L213.7 874.2L217.5 875.5L219.0 876.1L222.0 876.2L223.3 878.0L223.0 879.7L224.3 880.8L225.8 882.0L227.4 881.9L228.6 880.6L228.1 878.0L230.7 875.8L231.8 874.2L230.7 871.5L229.2 870.7L230.4 869.2L229.9 867.4L230.4 865.4L233.4 865.4L236.5 865.7L239.5 867.1L242.1 867.5L242.6 870.4L244.1 870.9L245.6 871.6L247.9 870.9L250.2 868.4L251.7 871.2L254.0 873.0L254.9 874.8L257.8 876.1L260.0 877.6L261.3 879.3L263.4 881.1L261.9 882.0L258.8 882.8L256.2 883.8L251.7 883.7L247.1 883.8L244.1 885.4L241.8 886.7L242.6 886.9L246.4 885.5L250.5 885.8L249.4 887.0L249.7 888.4L250.2 889.9L252.4 890.7L254.7 890.7L256.7 889.9L257.3 890.4L255.5 891.3L251.7 892.5L248.6 894.1L247.6 892.7L250.2 891.3L246.7 891.6L244.8 892.7L241.5 893.9L240.6 895.4L241.8 896.7L240.0 897.1L237.5 897.6L235.7 898.5L235.6 899.9L234.4 901.1L233.4 900.3L234.0 902.1L232.7 903.7L233.3 905.5L233.4 906.6L231.9 907.5L229.8 908.7L227.8 909.8L225.4 911.3L224.5 913.4L224.6 915.4L225.7 917.4L226.4 919.5L226.0 921.8L224.9 922.0L223.9 920.6L222.5 918.3L222.3 916.5L221.1 914.8L219.9 914.6L218.4 915.1L216.7 914.0L214.4 914.0L212.3 914.3L212.6 915.9L211.1 916.0L209.1 915.4L206.1 915.1L204.1 915.6L201.5 917.2L200.3 918.8L200.3 920.9L199.7 923.5L199.5 926.4L200.3 928.4L201.7 930.8L203.2 931.9L204.9 932.6L207.8 932.0L209.6 931.7L210.6 930.2L210.9 928.4L213.7 927.6L216.0 927.6L215.2 929.4L214.9 931.7L214.1 933.4L214.0 935.5L213.2 936.3L215.2 936.3L218.2 936.2L220.5 936.9L221.7 937.5L221.3 939.8L221.1 942.9L221.7 944.5L223.3 946.4L225.1 947.0L227.2 945.8L229.6 946.4L230.7 947.4L231.9 947.0L233.1 945.9L233.7 943.9L235.4 943.3L237.2 942.9L238.5 942.1L239.8 941.6L239.1 942.9L239.5 943.9L238.9 945.1L240.1 945.3L239.8 943.5L241.5 942.7L241.8 941.9L242.6 942.9L244.4 943.8L247.1 944.2L250.2 944.8L251.7 944.2L254.0 944.1L254.7 945.5L255.9 947.3L257.3 947.7L259.3 949.7L260.8 951.1L263.8 951.4L266.1 951.9L268.4 952.9L269.9 954.0L270.7 955.1L271.4 957.7L272.2 959.6L273.7 961.2L276.0 961.5L279.8 962.7L281.0 964.4L283.6 964.7L287.4 964.7L289.7 966.0L292.0 967.7L294.2 968.5L295.0 971.1L295.3 975.6L296.5 978.7L223.6 978.7L225.1 969.5L224.8 967.3L226.1 965.7L226.9 963.9L225.4 962.7L226.4 960.4L226.6 959.0L228.1 958.0L228.6 956.4L230.4 954.6L230.7 951.2L229.9 949.3L229.0 947.7L227.4 946.8L226.0 947.7L226.3 949.1L224.3 948.7L222.2 948.0L221.0 946.7L219.5 945.6L218.1 945.0L217.9 943.5L216.7 941.8L215.0 940.4L213.7 940.3L211.7 939.8L209.3 939.2L207.9 938.1L205.5 936.0L204.4 935.7L201.5 936.5L199.2 935.8L196.5 934.9L193.3 933.1L190.9 932.5L188.8 931.0L187.7 929.3L188.1 927.5L187.1 925.6L185.0 923.5L182.7 921.4L181.2 919.5L179.9 918.0L178.1 916.5L176.7 914.3L175.5 912.7L173.7 911.9L174.0 913.4L174.6 915.0L176.1 916.5L177.2 918.6L178.7 920.8L180.1 923.0L181.8 925.0L180.7 925.3L179.2 923.2L177.7 922.0L177.2 920.0L174.6 918.8L174.2 917.7L174.6 916.6L172.3 914.2L171.0 912.4L170.1 910.5L169.6 909.5L168.2 908.9L166.9 908.1L164.9 907.8L164.4 906.4L162.9 904.7L162.0 903.2L161.2 902.1L160.0 900.2L159.3 898.9L159.6 897.1L159.0 895.1L159.7 892.5L159.9 889.9L159.4 888.4L158.7 886.6L160.5 886.9L161.5 885.7L160.5 884.9L158.2 883.8L155.9 883.2L153.9 882.3L153.6 880.6L151.4 879.1L150.1 877.6L149.7 875.8L147.9 874.7L145.3 872.7L143.0 871.2L140.7 871.5L138.7 870.4L135.9 869.4L133.1 868.9L130.1 868.9L127.0 868.3L124.0 867.7L122.5 868.6L120.2 869.5L117.9 870.1L117.9 868.4L119.9 867.1L116.7 868.3L114.9 870.0L113.7 871.5L111.1 872.7L108.8 874.1L105.8 875.3L102.7 876.1L100.1 876.8L97.7 877.3L99.7 876.4L102.3 875.3L104.5 874.2L106.8 872.7L108.8 871.5L107.7 870.7L104.5 870.6L102.3 871.0L101.7 869.2L98.9 868.1L97.1 867.1L95.9 866.3L97.4 864.6L98.2 864.0L101.2 863.6L103.5 862.5L103.2 861.6L100.4 861.9L96.6 862.0L94.7 861.0ZM74.6 855.3L77.6 855.8L81.0 857.0L83.0 857.9L87.2 858.2L90.1 859.4L90.3 859.6L89.0 860.4L86.5 862.2L84.5 862.3L82.2 861.0L79.9 860.5L76.9 861.0L74.6 861.3ZM621.8 855.3L617.2 854.3L612.7 853.8L608.1 853.6L605.1 854.1L602.0 854.3L597.5 854.1L592.9 854.3L590.6 852.4L585.3 852.0L579.2 852.3L576.2 851.2L570.1 850.0L564.0 849.5L560.2 850.1L556.4 851.5L550.4 851.5L546.6 852.4L544.3 850.9L542.8 849.4L540.5 848.3L536.7 848.0L532.1 849.1L527.6 848.3L521.5 848.0L518.4 847.7L513.9 848.3L510.1 848.8L512.4 846.8L516.9 845.3L520.7 844.2L513.9 843.3L507.8 842.1L506.7 841.9L501.7 843.6L495.6 844.5L491.1 844.7L483.5 845.4L480.4 846.8L479.7 847.9L475.1 848.2L470.6 848.3L470.9 850.3L467.5 850.1L465.2 850.8L463.0 852.9L460.4 854.4L461.4 857.5L458.4 859.0L456.9 857.5L458.4 855.2L458.9 852.9L458.7 849.8L455.4 848.5L453.1 849.4L452.3 851.4L450.0 852.9L450.0 854.4L448.5 855.2L446.2 854.7L440.9 854.0L437.9 855.6L433.3 855.9L430.3 856.4L428.0 855.8L422.7 857.0L418.9 856.4L415.1 855.9L414.2 855.9L415.4 857.9L415.1 859.3L412.0 859.0L409.9 859.0L408.2 859.8L409.8 861.3L408.7 861.9L405.2 862.8L402.2 862.3L400.8 861.3L400.6 859.8L398.4 859.0L398.1 858.2L401.4 858.8L406.7 859.8L410.5 859.0L410.8 857.5L409.0 856.7L406.7 856.1L402.9 855.2L399.1 854.6L396.1 854.0L392.3 852.9L390.0 852.1L387.4 852.0L383.2 852.7L377.8 853.3L374.0 854.9L371.0 856.4L368.7 857.8L367.2 859.8L364.9 861.4L362.8 863.4L358.1 865.1L355.8 866.6L356.0 868.9L356.7 870.6L358.2 871.8L360.7 871.8L363.4 870.4L364.6 869.2L365.2 870.6L366.1 872.0L367.4 874.5L366.9 874.8L365.7 875.2L364.8 874.4L363.9 873.6L364.3 872.4L362.6 873.2L360.7 873.8L360.5 875.6L361.4 876.7L361.7 878.0L360.7 878.8L358.8 879.0L356.6 879.1L355.3 879.7L354.7 880.8L353.5 881.9L352.0 882.5L350.6 882.8L350.5 883.8L348.5 884.8L346.2 884.6L345.3 884.6L345.9 886.1L343.6 886.0L341.1 886.6L341.8 887.5L344.4 888.3L346.4 889.9L346.4 892.4L345.8 894.2L342.4 894.1L339.1 893.9L335.7 893.8L334.1 894.8L334.7 896.4L334.8 898.6L333.8 901.2L334.8 902.6L334.5 904.0L336.8 903.7L338.6 904.3L339.7 905.5L339.2 905.8L338.6 906.9L337.7 908.5L335.3 909.8L333.6 911.6L333.3 913.9L331.5 916.5L328.7 918.0L326.2 920.4L324.6 923.0L323.4 924.6L322.4 927.6L323.1 929.9L323.6 932.2L323.1 935.5L321.6 938.0L322.7 939.8L322.8 941.6L324.6 942.9L326.2 944.4L328.0 945.9L329.2 948.5L331.0 950.0L333.8 952.3L336.8 953.7L340.6 952.6L345.2 953.1L349.7 951.4L352.0 950.8L355.0 950.8L357.0 953.5L358.8 953.7L361.1 953.4L362.6 954.6L363.1 956.6L362.6 958.9L362.2 961.2L363.4 964.2L365.7 966.5L366.4 968.0L367.2 969.5L368.0 975.6L368.0 978.7L409.0 978.7L409.8 975.6L407.9 971.1L407.5 968.0L409.0 965.0L411.3 962.7L413.6 959.6L417.4 957.4L420.4 953.5L422.7 950.5L425.0 945.9L426.0 942.4L422.7 943.2L418.1 944.1L415.1 944.5L414.0 942.9L414.0 941.3L414.3 941.0L416.6 940.9L421.2 939.0L424.2 937.5L427.5 936.6L430.3 934.8L432.6 933.7L434.5 932.2L436.1 930.7L437.6 929.1L439.1 926.1L437.1 924.4L434.8 923.8L433.9 921.5L433.8 920.3L434.1 919.1L435.3 921.1L438.6 921.7L441.8 922.0L444.7 922.0L449.3 921.7L450.3 922.6L452.3 924.6L453.8 925.6L455.4 925.5L453.1 926.4L454.9 928.4L458.4 927.6L458.7 927.3L459.0 929.9L458.9 931.4L459.8 935.2L461.0 937.8L461.9 940.9L463.3 943.3L464.2 945.9L466.0 948.0L467.1 946.8L468.7 944.7L469.6 942.9L470.3 939.8L470.0 936.8L472.1 935.4L473.4 934.5L475.9 932.5L478.2 930.4L480.4 928.7L482.3 927.5L484.2 927.0L485.8 926.2L487.7 926.2L488.5 928.4L489.6 930.2L491.4 932.6L491.7 935.7L493.1 936.3L494.9 935.1L496.4 935.1L496.7 937.5L497.9 940.6L497.6 945.1L497.6 947.9L499.7 950.5L500.7 952.8L501.7 955.8L504.0 957.5L505.5 958.4L506.7 958.3L505.5 954.8L505.4 952.3L503.5 950.9L502.2 949.9L500.7 947.6L499.9 945.1L499.0 942.9L500.2 940.6L501.6 940.0L501.7 941.0L503.7 941.8L504.8 943.6L507.0 944.4L507.8 946.7L510.4 945.1L512.4 943.6L514.2 942.1L514.3 939.8L513.6 937.1L511.1 934.9L509.6 932.9L508.9 931.4L510.1 929.4L511.6 927.6L513.1 927.5L514.9 927.6L515.7 929.6L516.2 928.1L518.0 927.5L520.7 926.5L521.9 926.2L524.5 925.5L526.8 924.1L528.6 922.9L529.8 921.4L530.3 919.5L531.4 918.0L533.3 916.2L533.6 913.4L532.9 912.1L531.8 910.5L531.1 908.1L529.5 907.0L530.9 905.5L532.1 904.6L534.4 903.7L532.9 903.2L531.4 903.1L529.1 903.7L528.3 902.4L527.0 901.5L527.6 900.6L529.5 900.2L532.1 898.2L533.0 899.4L532.4 901.2L533.9 900.5L535.9 899.7L537.1 899.6L538.2 900.2L538.7 902.4L540.5 903.2L540.5 905.5L540.2 907.6L542.0 907.6L544.3 906.9L545.0 905.5L544.9 903.7L543.5 901.7L542.0 899.9L544.0 898.2L545.5 897.1L546.9 895.9L548.8 894.5L551.1 895.1L554.2 893.6L557.2 891.0L559.5 888.3L561.5 886.0L561.8 883.4L563.0 880.6L561.8 879.1L558.7 878.2L556.4 878.0L555.7 877.1L553.7 877.0L557.2 874.7L560.2 872.7L563.3 870.9L566.3 869.8L570.1 870.0L573.9 870.0L577.7 870.3L580.0 870.4L583.0 869.8L583.8 868.1L586.8 866.3L591.4 866.2L596.0 865.2L595.2 867.4L592.2 869.2L588.4 872.0L586.1 873.5L585.0 875.8L585.3 879.6L586.4 882.6L588.8 880.3L591.4 878.0L594.4 875.3L596.4 872.3L594.7 871.6L597.5 869.2L600.8 868.3L605.1 868.1L608.1 867.7L611.2 866.6L615.0 865.9L618.0 865.1L620.7 865.4L620.7 863.6L618.5 862.0L619.5 861.6L621.8 861.3ZM254.1 858.7L251.7 861.3L248.6 862.2L249.9 864.5L248.6 865.9L244.8 865.2L239.5 864.6L235.7 862.2L230.4 862.0L229.6 861.0L236.5 860.1L237.7 857.8L234.2 856.2L228.9 853.6L225.1 854.0L217.5 853.3L212.9 852.4L211.4 851.4L214.4 848.3L219.0 848.0L225.8 848.0L231.9 849.5L237.2 850.9L241.8 852.6L244.8 853.3L246.4 854.9L244.8 855.8L248.3 856.9L251.7 858.2ZM216.7 862.3L219.8 860.2L222.8 861.7L225.8 862.8L222.0 863.4L218.2 864.0L216.0 863.3ZM167.3 851.8L169.6 849.5L174.9 848.6L181.8 849.5L186.3 848.9L189.4 851.4L192.4 852.6L194.7 853.6L191.6 855.5L185.6 855.2L178.0 854.6L171.1 854.3L168.8 852.9ZM157.6 850.8L158.2 848.2L162.0 846.9L168.8 847.4L172.6 848.5L165.8 850.9L160.8 851.8ZM170.4 844.5L178.0 843.3L187.1 844.7L184.8 846.0L178.0 846.8L171.1 846.2ZM208.1 844.0L214.4 843.6L225.8 844.2L225.1 846.0L214.4 846.8L208.4 846.3L207.6 845.0ZM212.2 843.4L222.0 843.9L229.6 843.9L233.4 841.0L238.0 840.2L237.2 838.7L244.8 837.5L252.4 836.0L254.0 834.6L241.8 833.7L229.6 833.8L217.5 834.9L209.9 836.9L203.0 838.4L204.6 839.9L210.6 840.7L214.4 841.8ZM202.3 839.2L209.9 837.6L211.4 839.2L205.3 841.0L200.8 840.7ZM194.7 847.5L201.5 847.7L200.3 850.6L196.2 851.4L192.4 849.8ZM203.8 847.5L210.6 847.7L206.8 850.3L203.0 849.8ZM193.2 843.7L200.8 844.0L199.2 845.6L193.2 845.3ZM162.8 843.7L170.4 842.5L171.9 844.2L165.8 844.7ZM190.1 840.4L196.2 840.2L198.5 841.5L193.2 842.1ZM202.3 845.3L206.1 845.1L206.1 846.5L202.3 846.3ZM197.7 854.3L201.5 854.0L203.0 855.5L199.2 856.1ZM237.2 841.5L244.8 844.5L257.0 844.5L263.1 846.8L266.1 852.1L269.9 855.2L266.9 859.0L270.7 862.8L274.5 866.6L280.6 868.9L282.8 868.1L285.9 864.3L290.4 860.5L299.6 856.7L310.2 854.4L314.8 852.1L314.0 849.1L319.3 846.8L320.8 843.0L319.3 839.2L330.0 836.1L317.8 834.6L302.6 833.1L279.8 834.6L257.0 835.4L246.4 837.6L238.8 839.9ZM311.7 860.5L314.8 859.1L323.9 859.0L327.7 861.0L325.4 862.3L320.8 863.7L314.0 863.1L314.8 861.6ZM258.1 887.8L263.1 887.8L266.7 889.2L268.1 887.8L266.9 886.4L266.9 884.9L263.8 884.5L263.8 881.9L262.3 881.9L260.8 883.4L259.3 885.7ZM160.6 886.7L158.5 886.3L155.9 885.1L153.2 882.9L155.2 883.1L158.2 884.1ZM219.2 927.0L222.0 925.5L225.1 925.0L227.4 925.9L230.4 927.5L233.3 928.4L235.4 929.6L233.0 930.1L230.1 930.1L229.6 928.7L226.6 927.2L223.6 926.4L220.5 927.2ZM235.1 932.0L237.5 930.1L241.8 930.4L244.4 932.0L241.8 932.6L239.5 933.6L237.2 932.9L235.1 932.5ZM229.2 932.3L232.2 932.6L231.5 933.3L229.6 932.8ZM246.1 932.2L248.5 932.5L248.3 932.9L246.1 932.9ZM111.2 929.6L112.4 930.2L112.8 930.7L111.7 931.6L111.1 930.5ZM110.0 928.4L111.1 928.5L110.8 929.0L110.0 928.7ZM107.6 927.5L108.5 927.8L108.2 928.1L107.7 927.9ZM105.3 926.5L106.1 926.5L105.9 927.0L105.5 927.0ZM235.7 898.5L238.8 897.7L238.9 898.0L236.5 898.5ZM250.2 884.3L254.4 885.1L254.0 885.5L250.9 884.6ZM250.5 889.3L254.0 889.5L253.2 890.2L250.9 889.9ZM87.1 863.1L91.3 863.9L90.6 864.5L87.5 864.0ZM113.4 871.6L116.9 872.0L114.9 873.9L113.4 873.2ZM146.0 877.7L148.3 878.8L148.3 880.8L146.8 879.9ZM339.5 884.0L343.6 883.2L350.2 882.5L350.8 880.0L348.7 878.8L347.4 877.3L345.8 875.6L344.7 874.2L345.5 872.6L343.2 871.0L340.6 871.0L338.8 872.7L339.7 874.5L338.8 875.8L340.8 876.8L343.3 876.7L343.0 877.6L343.6 879.0L341.2 879.1L342.0 880.6L340.3 881.4L342.9 881.9L341.7 882.3ZM339.1 880.8L339.1 878.5L339.8 877.1L338.3 876.1L335.6 876.2L335.3 877.6L333.0 877.7L333.3 879.1L332.5 881.1L333.8 881.7L336.0 881.4L338.5 880.8ZM364.9 840.7L368.0 838.9L374.0 838.4L381.6 837.8L389.2 838.2L383.9 839.9L380.9 841.1L375.6 843.0L372.5 843.7L369.5 842.7L368.0 841.5ZM427.2 851.4L432.6 848.6L434.8 846.0L440.9 844.2L448.5 843.1L452.3 843.4L445.5 845.6L437.9 847.5L434.5 849.4L433.0 852.1L435.6 852.7L429.5 852.6ZM419.6 837.2L427.2 836.4L436.4 835.8L444.0 836.6L439.4 837.8L430.3 838.4L422.7 837.9ZM492.6 839.2L497.2 837.2L503.2 836.6L507.8 837.9L506.3 839.9L500.2 841.1L495.6 840.2ZM554.9 845.3L562.5 844.5L568.6 845.3L576.2 845.6L573.2 846.5L564.0 847.7L558.0 847.5ZM619.5 851.4L621.8 851.2L621.8 852.3L619.8 852.4ZM564.0 890.2L566.3 889.5L565.6 884.9L567.8 885.7L565.9 881.9L566.0 879.3L565.0 877.6L563.6 878.8L564.3 882.6L563.9 887.2L563.9 889.5ZM561.0 897.1L562.8 896.7L565.9 896.4L569.8 894.4L568.9 892.8L564.0 891.0L563.4 893.3L563.1 894.5L561.3 895.1ZM547.2 908.5L549.6 906.3L552.6 906.1L554.9 905.8L556.1 903.7L557.2 904.3L559.5 902.6L560.7 900.2L561.0 898.2L562.4 897.1L563.3 898.6L564.0 900.6L562.5 902.1L562.4 904.1L561.9 906.0L560.7 907.0L559.2 907.6L556.4 907.6L556.1 908.1L554.6 909.3L553.4 907.8L550.4 907.9L547.3 908.7ZM545.5 909.3L547.3 908.7L548.8 910.1L547.8 912.5L546.6 913.0L545.8 910.8ZM549.6 909.6L552.9 908.2L552.3 909.6L550.4 910.5ZM530.8 925.3L532.1 922.0L533.6 922.3L532.7 926.1L531.8 927.0ZM513.3 931.1L515.4 929.7L516.9 930.5L515.4 932.5L513.4 932.2ZM530.6 932.2L533.9 932.2L533.6 936.0L536.7 939.4L532.9 939.4L531.4 938.3L530.6 935.5ZM533.6 949.7L535.9 947.3L539.0 945.6L540.5 949.7L539.0 951.7L536.7 950.5ZM533.6 942.3L535.5 943.3L534.4 944.4L533.5 944.2ZM537.1 941.3L539.3 941.8L538.5 944.8L537.3 944.4ZM534.4 943.8L535.9 944.4L535.2 946.5L534.4 945.6ZM526.3 947.6L530.0 943.3L530.3 943.9L527.1 947.7ZM513.9 958.1L514.9 957.4L517.7 956.3L520.0 955.5L522.2 953.4L524.5 951.2L526.3 949.7L528.3 952.0L529.5 952.6L527.6 953.8L527.1 955.8L527.6 958.9L526.8 960.4L526.3 961.9L525.3 964.2L524.5 966.5L522.2 966.7L520.0 965.3L516.9 965.0L515.7 964.7L515.4 962.7L514.2 960.4ZM493.1 951.9L496.4 952.5L497.9 954.3L500.7 957.0L502.5 957.8L505.8 961.2L507.0 963.1L509.3 965.0L509.3 969.4L507.0 969.2L503.5 966.5L501.7 964.2L500.2 961.6L498.2 957.7L496.4 955.8L494.1 953.5ZM529.8 968.8L529.7 965.7L528.8 964.5L530.3 959.6L531.4 959.2L535.2 959.0L537.9 958.1L537.3 959.8L532.9 959.6L531.4 961.6L532.9 961.9L535.6 961.8L532.9 963.3L534.4 967.3L532.1 964.7L531.4 964.8L531.2 968.8ZM542.0 961.2L543.1 958.1L543.8 957.0L542.8 959.6L543.8 960.4L542.8 961.6ZM547.3 962.4L548.8 961.0L551.9 961.8L552.2 964.2L554.2 965.4L557.2 962.7L559.5 963.8L562.5 964.4L567.1 966.2L569.7 967.3L570.1 968.8L572.4 969.5L576.2 978.7L547.3 978.7ZM469.5 950.9L469.5 947.4L470.1 945.5L471.3 947.4L472.5 949.3L472.2 950.6L470.7 951.4ZM397.3 907.0L398.4 906.4L400.8 906.0L399.9 907.2L398.4 907.6ZM383.9 906.6L388.2 906.6L388.0 907.0L384.1 906.7ZM367.0 902.3L371.9 902.0L371.2 904.4L367.2 903.1ZM361.0 900.9L360.7 897.9L362.3 897.6L363.1 898.6L362.8 900.8ZM361.3 897.1L362.2 897.3L362.6 894.8L361.4 895.4ZM429.2 941.2L431.0 941.2L430.6 941.6L429.5 941.6ZM364.9 876.1L367.2 875.6L366.9 874.8L365.2 875.2ZM363.1 875.9L364.5 875.8L364.2 876.5L363.4 876.4ZM93.4 878.2L95.0 877.7L96.5 878.2L95.0 878.7ZM90.3 879.6L91.6 879.0L93.0 879.6L91.6 880.1ZM88.3 880.0L89.0 879.5L89.8 880.0L89.0 880.6ZM84.0 880.6L85.5 880.1L87.1 880.6L85.5 881.2ZM81.4 880.9L82.8 880.4L84.2 880.9L82.8 881.5ZM78.6 881.3L79.8 880.7L81.0 881.3L79.8 881.8ZM76.3 881.4L77.3 880.9L78.4 881.4L77.3 881.9ZM74.8 881.9L75.4 881.3L76.0 881.9L75.4 882.4ZM100.4 877.3L101.2 876.8L102.0 877.3L101.2 877.8ZM104.2 876.1L105.0 875.5L105.8 876.1L105.0 876.6ZM618.6 881.4L619.5 880.9L620.4 881.4L619.5 881.9ZM616.9 881.1L617.7 880.6L618.5 881.1L617.7 881.6ZM610.1 879.9L611.6 879.3L613.1 879.9L611.6 880.4ZM612.7 880.5L613.4 880.0L614.2 880.5L613.4 881.0ZM569.8 893.6L570.9 893.1L571.9 893.6L570.9 894.1ZM571.8 892.4L572.9 891.9L573.9 892.4L572.9 892.8ZM573.6 891.2L574.7 890.7L575.7 891.2L574.7 891.6ZM575.9 889.9L577.0 889.5L578.0 889.9L577.0 890.4ZM578.2 888.4L579.2 888.0L580.3 888.4L579.2 888.9ZM580.5 886.9L581.5 886.4L582.6 886.9L581.5 887.4ZM582.0 885.4L583.0 884.9L584.1 885.4L583.0 885.8ZM584.0 883.7L585.0 883.2L586.1 883.7L585.0 884.1ZM599.2 876.4L600.5 875.9L601.9 876.4L600.5 876.8ZM229.0 923.0L229.9 922.5L230.9 923.0L229.9 923.6ZM231.0 922.0L231.9 921.4L232.8 922.0L231.9 922.5ZM229.5 919.8L230.4 919.3L231.3 919.8L230.4 920.4ZM232.1 924.6L233.0 924.0L233.9 924.6L233.0 925.1ZM234.0 926.1L235.0 925.6L235.9 926.1L235.0 926.6ZM235.6 928.1L236.5 927.5L237.4 928.1L236.5 928.6ZM254.5 936.9L255.0 936.4L255.6 936.9L255.0 937.4ZM254.9 938.1L255.5 937.6L256.0 938.1L255.5 938.7ZM254.0 935.7L254.6 935.2L255.1 935.7L254.6 936.2ZM253.7 934.3L254.3 933.8L254.8 934.3L254.3 934.9ZM254.6 940.3L255.2 939.7L255.7 940.3L255.2 940.8ZM254.0 941.9L254.6 941.4L255.1 941.9L254.6 942.5ZM254.5 944.2L255.0 943.7L255.6 944.2L255.0 944.8ZM251.9 932.6L252.4 932.1L253.0 932.6L252.4 933.2ZM249.3 932.3L249.9 931.8L250.4 932.3L249.9 932.9ZM324.0 917.7L324.6 917.2L325.3 917.7L324.6 918.2ZM322.3 917.4L323.0 916.9L323.7 917.4L323.0 917.9ZM326.2 916.9L326.9 916.4L327.6 916.9L326.9 917.5ZM327.0 916.2L327.7 915.6L328.4 916.2L327.7 916.7ZM320.5 916.8L321.1 916.3L321.8 916.8L321.1 917.3ZM321.7 910.5L322.4 910.0L323.0 910.5L322.4 911.1ZM311.8 937.5L312.5 937.0L313.2 937.5L312.5 938.1ZM310.6 935.1L311.3 934.6L311.9 935.1L311.3 935.6ZM309.5 934.5L310.2 933.9L310.9 934.5L310.2 935.0ZM312.9 935.8L313.5 935.3L314.2 935.8L313.5 936.4ZM305.0 901.5L305.6 901.0L306.3 901.5L305.6 902.1ZM308.8 902.8L309.4 902.2L310.1 902.8L309.4 903.3ZM300.2 900.3L300.9 899.8L301.6 900.3L300.9 900.8ZM336.6 865.7L337.6 865.2L338.5 865.7L337.6 866.2ZM345.3 868.4L346.2 868.0L347.1 868.4L346.2 868.9ZM342.7 870.4L343.6 870.0L344.6 870.4L343.6 870.9ZM367.8 856.4L368.7 855.9L369.6 856.4L368.7 856.9ZM370.1 855.5L371.0 855.0L371.9 855.5L371.0 855.9ZM104.1 927.0L104.7 926.5L105.3 927.0L104.7 927.5ZM109.0 928.2L109.6 927.8L110.2 928.2L109.6 928.7ZM101.5 925.3L102.1 924.9L102.7 925.3L102.1 925.8ZM94.8 924.0L95.4 923.5L96.0 924.0L95.4 924.4ZM90.0 934.9L90.6 934.5L91.2 934.9L90.6 935.4ZM86.6 949.6L87.2 949.1L87.8 949.6L87.2 950.0ZM92.7 947.0L93.3 946.5L93.9 947.0L93.3 947.4ZM88.9 943.3L89.5 942.9L90.1 943.3L89.5 943.8ZM91.2 938.1L91.8 937.7L92.4 938.1L91.8 938.6ZM79.2 960.1L79.8 959.6L80.4 960.1L79.8 960.6ZM101.2 951.4L101.8 950.9L102.4 951.4L101.8 951.9ZM569.1 937.2L569.7 936.8L570.3 937.2L569.7 937.7ZM567.7 940.0L568.3 939.5L568.9 940.0L568.3 940.4ZM569.2 932.9L569.8 932.5L570.4 932.9L569.8 933.4ZM552.0 949.1L552.6 948.7L553.2 949.1L552.6 949.6ZM557.5 945.9L558.1 945.5L558.7 945.9L558.1 946.4ZM578.3 949.1L578.9 948.7L579.5 949.1L578.9 949.6ZM588.1 949.9L588.7 949.4L589.3 949.9L588.7 950.3ZM595.4 952.3L596.0 951.9L596.6 952.3L596.0 952.8ZM608.1 949.6L608.7 949.1L609.3 949.6L608.7 950.0ZM605.2 951.6L605.8 951.1L606.4 951.6L605.8 952.0ZM610.6 958.4L611.2 958.0L611.8 958.4L611.2 958.9ZM602.5 946.4L603.1 945.9L603.7 946.4L603.1 946.8ZM580.9 967.1L581.5 966.7L582.1 967.1L581.5 967.6ZM578.6 966.5L579.2 966.0L579.8 966.5L579.2 967.0ZM576.4 964.4L577.0 963.9L577.6 964.4L577.0 964.8ZM571.0 963.6L571.6 963.1L572.2 963.6L571.6 964.1ZM210.0 961.2L210.6 960.7L211.2 961.2L210.6 961.6ZM208.8 961.6L209.4 961.2L210.0 961.6L209.4 962.1ZM226.0 962.7L226.6 962.2L227.2 962.7L226.6 963.1ZM488.6 941.3L489.1 940.8L489.6 941.3L489.1 941.9ZM488.7 942.9L489.3 942.3L489.8 942.9L489.3 943.4ZM489.8 948.2L490.3 947.7L490.9 948.2L490.3 948.7ZM459.4 954.3L459.9 953.8L460.5 954.3L459.9 954.8ZM459.2 956.6L459.8 956.1L460.3 956.6L459.8 957.1ZM459.4 951.2L459.9 950.7L460.5 951.2L459.9 951.8ZM458.2 943.6L458.7 943.1L459.2 943.6L458.7 944.2ZM432.0 967.4L432.6 966.9L433.1 967.4L432.6 967.9ZM435.1 961.2L435.6 960.6L436.1 961.2L435.6 961.7ZM352.0 900.0L352.8 899.6L353.5 900.0L352.8 900.5ZM349.6 901.1L350.3 900.6L351.1 901.1L350.3 901.5ZM353.7 899.4L354.4 898.9L355.2 899.4L354.4 899.9ZM390.0 905.2L390.8 904.7L391.5 905.2L390.8 905.7ZM369.3 905.7L370.1 905.2L370.8 905.7L370.1 906.1ZM384.7 898.3L385.4 897.9L386.2 898.3L385.4 898.8ZM386.2 899.4L387.0 898.9L387.7 899.4L387.0 899.9ZM508.1 963.8L509.3 963.1L510.5 963.8L509.3 964.4ZM543.8 965.1L545.0 964.4L546.3 965.1L545.0 965.8ZM539.4 965.6L540.6 964.9L541.8 965.6L540.6 966.3ZM540.8 961.3L542.0 960.6L543.2 961.3L542.0 962.0ZM539.7 954.1L540.9 953.5L542.2 954.1L540.9 954.8ZM537.7 955.1L539.0 954.4L540.2 955.1L539.0 955.7ZM511.4 954.3L512.7 953.6L513.9 954.3L512.7 955.0ZM495.3 958.7L496.6 958.0L497.8 958.7L496.6 959.4ZM493.1 956.4L494.3 955.7L495.5 956.4L494.3 957.1ZM545.8 961.3L547.0 960.6L548.2 961.3L547.0 962.0ZM546.4 962.2L547.6 961.5L548.8 962.2L547.6 962.9ZM334.1 852.1L335.3 851.7L336.5 852.1L335.3 852.6ZM375.9 846.9L377.1 846.5L378.3 846.9L377.1 847.4ZM383.5 842.1L384.7 841.6L385.9 842.1L384.7 842.5ZM389.5 840.2L390.8 839.8L392.0 840.2L390.8 840.7Z"/></clipPath><filter id="mottle" x="74" y="824" width="548" height="144" filterUnits="userSpaceOnUse"><feTurbulence type="fractalNoise" baseFrequency="0.22 0.3" numOctaves="2" seed="7"/><feColorMatrix type="matrix" values="0 0 0 0 1  0 0 0 0 1  0 0 0 0 1  1.25 0 0 0 -0.63"/></filter><filter id="blur3" x="-20%" y="-20%" width="140%" height="140%"><feGaussianBlur stdDeviation="3"/></filter><pattern id="hatch" patternUnits="userSpaceOnUse" width="4.38" height="20" patternTransform="rotate(42)"><line x1="0.4" y1="0" x2="0.4" y2="20" stroke="#2a2a2a" stroke-width="0.6" stroke-opacity="0.8"/></pattern></defs>
<path d="M92.7 860.4L95.1 859.6L98.9 859.0L102.0 858.4L99.2 857.2L94.7 856.2L95.6 855.2L100.4 853.2L105.0 852.4L110.3 851.7L117.2 852.3L122.5 853.2L130.1 853.5L133.9 854.2L136.9 854.4L140.7 855.3L143.8 854.4L149.1 854.3L152.1 853.6L155.2 853.3L158.2 854.6L162.8 854.0L165.8 854.6L170.4 855.2L174.9 856.2L179.5 857.0L184.0 857.0L187.1 855.9L190.1 856.7L194.7 857.2L198.5 857.0L202.3 856.2L203.8 854.4L201.5 851.4L204.6 850.8L207.6 852.9L209.1 854.4L212.2 855.5L214.4 856.2L216.7 857.5L218.2 854.4L220.5 854.0L223.6 855.2L224.3 857.5L222.0 859.3L218.2 859.0L216.3 860.5L214.4 862.5L211.4 863.3L209.9 864.6L206.1 866.9L204.6 868.9L204.4 870.7L206.5 870.9L207.9 873.2L210.6 873.2L213.7 874.2L217.5 875.5L219.0 876.1L222.0 876.2L223.3 878.0L223.0 879.7L224.3 880.8L225.8 882.0L227.4 881.9L228.6 880.6L228.1 878.0L230.7 875.8L231.8 874.2L230.7 871.5L229.2 870.7L230.4 869.2L229.9 867.4L230.4 865.4L233.4 865.4L236.5 865.7L239.5 867.1L242.1 867.5L242.6 870.4L244.1 870.9L245.6 871.6L247.9 870.9L250.2 868.4L251.7 871.2L254.0 873.0L254.9 874.8L257.8 876.1L260.0 877.6L261.3 879.3L263.4 881.1L261.9 882.0L258.8 882.8L256.2 883.8L251.7 883.7L247.1 883.8L244.1 885.4L241.8 886.7L242.6 886.9L246.4 885.5L250.5 885.8L249.4 887.0L249.7 888.4L250.2 889.9L252.4 890.7L254.7 890.7L256.7 889.9L257.3 890.4L255.5 891.3L251.7 892.5L248.6 894.1L247.6 892.7L250.2 891.3L246.7 891.6L244.8 892.7L241.5 893.9L240.6 895.4L241.8 896.7L240.0 897.1L237.5 897.6L235.7 898.5L235.6 899.9L234.4 901.1L233.4 900.3L234.0 902.1L232.7 903.7L233.3 905.5L233.4 906.6L231.9 907.5L229.8 908.7L227.8 909.8L225.4 911.3L224.5 913.4L224.6 915.4L225.7 917.4L226.4 919.5L226.0 921.8L224.9 922.0L223.9 920.6L222.5 918.3L222.3 916.5L221.1 914.8L219.9 914.6L218.4 915.1L216.7 914.0L214.4 914.0L212.3 914.3L212.6 915.9L211.1 916.0L209.1 915.4L206.1 915.1L204.1 915.6L201.5 917.2L200.3 918.8L200.3 920.9L199.7 923.5L199.5 926.4L200.3 928.4L201.7 930.8L203.2 931.9L204.9 932.6L207.8 932.0L209.6 931.7L210.6 930.2L210.9 928.4L213.7 927.6L216.0 927.6L215.2 929.4L214.9 931.7L214.1 933.4L214.0 935.5L213.2 936.3L215.2 936.3L218.2 936.2L220.5 936.9L221.7 937.5L221.3 939.8L221.1 942.9L221.7 944.5L223.3 946.4L225.1 947.0L227.2 945.8L229.6 946.4L230.7 947.4L231.9 947.0L233.1 945.9L233.7 943.9L235.4 943.3L237.2 942.9L238.5 942.1L239.8 941.6L239.1 942.9L239.5 943.9L238.9 945.1L240.1 945.3L239.8 943.5L241.5 942.7L241.8 941.9L242.6 942.9L244.4 943.8L247.1 944.2L250.2 944.8L251.7 944.2L254.0 944.1L254.7 945.5L255.9 947.3L257.3 947.7L259.3 949.7L260.8 951.1L263.8 951.4L266.1 951.9L268.4 952.9L269.9 954.0L270.7 955.1L271.4 957.7L272.2 959.6L273.7 961.2L276.0 961.5L279.8 962.7L281.0 964.4L283.6 964.7L287.4 964.7L289.7 966.0L292.0 967.7L294.2 968.5L295.0 971.1L295.3 975.6L296.5 978.7L223.6 978.7L225.1 969.5L224.8 967.3L226.1 965.7L226.9 963.9L225.4 962.7L226.4 960.4L226.6 959.0L228.1 958.0L228.6 956.4L230.4 954.6L230.7 951.2L229.9 949.3L229.0 947.7L227.4 946.8L226.0 947.7L226.3 949.1L224.3 948.7L222.2 948.0L221.0 946.7L219.5 945.6L218.1 945.0L217.9 943.5L216.7 941.8L215.0 940.4L213.7 940.3L211.7 939.8L209.3 939.2L207.9 938.1L205.5 936.0L204.4 935.7L201.5 936.5L199.2 935.8L196.5 934.9L193.3 933.1L190.9 932.5L188.8 931.0L187.7 929.3L188.1 927.5L187.1 925.6L185.0 923.5L182.7 921.4L181.2 919.5L179.9 918.0L178.1 916.5L176.7 914.3L175.5 912.7L173.7 911.9L174.0 913.4L174.6 915.0L176.1 916.5L177.2 918.6L178.7 920.8L180.1 923.0L181.8 925.0L180.7 925.3L179.2 923.2L177.7 922.0L177.2 920.0L174.6 918.8L174.2 917.7L174.6 916.6L172.3 914.2L171.0 912.4L170.1 910.5L169.6 909.5L168.2 908.9L166.9 908.1L164.9 907.8L164.4 906.4L162.9 904.7L162.0 903.2L161.2 902.1L160.0 900.2L159.3 898.9L159.6 897.1L159.0 895.1L159.7 892.5L159.9 889.9L159.4 888.4L158.7 886.6L160.5 886.9L161.5 885.7L160.5 884.9L158.2 883.8L155.9 883.2L153.9 882.3L153.6 880.6L151.4 879.1L150.1 877.6L149.7 875.8L147.9 874.7L145.3 872.7L143.0 871.2L140.7 871.5L138.7 870.4L135.9 869.4L133.1 868.9L130.1 868.9L127.0 868.3L124.0 867.7L122.5 868.6L120.2 869.5L117.9 870.1L117.9 868.4L119.9 867.1L116.7 868.3L114.9 870.0L113.7 871.5L111.1 872.7L108.8 874.1L105.8 875.3L102.7 876.1L100.1 876.8L97.7 877.3L99.7 876.4L102.3 875.3L104.5 874.2L106.8 872.7L108.8 871.5L107.7 870.7L104.5 870.6L102.3 871.0L101.7 869.2L98.9 868.1L97.1 867.1L95.9 866.3L97.4 864.6L98.2 864.0L101.2 863.6L103.5 862.5L103.2 861.6L100.4 861.9L96.6 862.0L94.7 861.0ZM74.6 855.3L77.6 855.8L81.0 857.0L83.0 857.9L87.2 858.2L90.1 859.4L90.3 859.6L89.0 860.4L86.5 862.2L84.5 862.3L82.2 861.0L79.9 860.5L76.9 861.0L74.6 861.3ZM621.8 855.3L617.2 854.3L612.7 853.8L608.1 853.6L605.1 854.1L602.0 854.3L597.5 854.1L592.9 854.3L590.6 852.4L585.3 852.0L579.2 852.3L576.2 851.2L570.1 850.0L564.0 849.5L560.2 850.1L556.4 851.5L550.4 851.5L546.6 852.4L544.3 850.9L542.8 849.4L540.5 848.3L536.7 848.0L532.1 849.1L527.6 848.3L521.5 848.0L518.4 847.7L513.9 848.3L510.1 848.8L512.4 846.8L516.9 845.3L520.7 844.2L513.9 843.3L507.8 842.1L506.7 841.9L501.7 843.6L495.6 844.5L491.1 844.7L483.5 845.4L480.4 846.8L479.7 847.9L475.1 848.2L470.6 848.3L470.9 850.3L467.5 850.1L465.2 850.8L463.0 852.9L460.4 854.4L461.4 857.5L458.4 859.0L456.9 857.5L458.4 855.2L458.9 852.9L458.7 849.8L455.4 848.5L453.1 849.4L452.3 851.4L450.0 852.9L450.0 854.4L448.5 855.2L446.2 854.7L440.9 854.0L437.9 855.6L433.3 855.9L430.3 856.4L428.0 855.8L422.7 857.0L418.9 856.4L415.1 855.9L414.2 855.9L415.4 857.9L415.1 859.3L412.0 859.0L409.9 859.0L408.2 859.8L409.8 861.3L408.7 861.9L405.2 862.8L402.2 862.3L400.8 861.3L400.6 859.8L398.4 859.0L398.1 858.2L401.4 858.8L406.7 859.8L410.5 859.0L410.8 857.5L409.0 856.7L406.7 856.1L402.9 855.2L399.1 854.6L396.1 854.0L392.3 852.9L390.0 852.1L387.4 852.0L383.2 852.7L377.8 853.3L374.0 854.9L371.0 856.4L368.7 857.8L367.2 859.8L364.9 861.4L362.8 863.4L358.1 865.1L355.8 866.6L356.0 868.9L356.7 870.6L358.2 871.8L360.7 871.8L363.4 870.4L364.6 869.2L365.2 870.6L366.1 872.0L367.4 874.5L366.9 874.8L365.7 875.2L364.8 874.4L363.9 873.6L364.3 872.4L362.6 873.2L360.7 873.8L360.5 875.6L361.4 876.7L361.7 878.0L360.7 878.8L358.8 879.0L356.6 879.1L355.3 879.7L354.7 880.8L353.5 881.9L352.0 882.5L350.6 882.8L350.5 883.8L348.5 884.8L346.2 884.6L345.3 884.6L345.9 886.1L343.6 886.0L341.1 886.6L341.8 887.5L344.4 888.3L346.4 889.9L346.4 892.4L345.8 894.2L342.4 894.1L339.1 893.9L335.7 893.8L334.1 894.8L334.7 896.4L334.8 898.6L333.8 901.2L334.8 902.6L334.5 904.0L336.8 903.7L338.6 904.3L339.7 905.5L339.2 905.8L338.6 906.9L337.7 908.5L335.3 909.8L333.6 911.6L333.3 913.9L331.5 916.5L328.7 918.0L326.2 920.4L324.6 923.0L323.4 924.6L322.4 927.6L323.1 929.9L323.6 932.2L323.1 935.5L321.6 938.0L322.7 939.8L322.8 941.6L324.6 942.9L326.2 944.4L328.0 945.9L329.2 948.5L331.0 950.0L333.8 952.3L336.8 953.7L340.6 952.6L345.2 953.1L349.7 951.4L352.0 950.8L355.0 950.8L357.0 953.5L358.8 953.7L361.1 953.4L362.6 954.6L363.1 956.6L362.6 958.9L362.2 961.2L363.4 964.2L365.7 966.5L366.4 968.0L367.2 969.5L368.0 975.6L368.0 978.7L409.0 978.7L409.8 975.6L407.9 971.1L407.5 968.0L409.0 965.0L411.3 962.7L413.6 959.6L417.4 957.4L420.4 953.5L422.7 950.5L425.0 945.9L426.0 942.4L422.7 943.2L418.1 944.1L415.1 944.5L414.0 942.9L414.0 941.3L414.3 941.0L416.6 940.9L421.2 939.0L424.2 937.5L427.5 936.6L430.3 934.8L432.6 933.7L434.5 932.2L436.1 930.7L437.6 929.1L439.1 926.1L437.1 924.4L434.8 923.8L433.9 921.5L433.8 920.3L434.1 919.1L435.3 921.1L438.6 921.7L441.8 922.0L444.7 922.0L449.3 921.7L450.3 922.6L452.3 924.6L453.8 925.6L455.4 925.5L453.1 926.4L454.9 928.4L458.4 927.6L458.7 927.3L459.0 929.9L458.9 931.4L459.8 935.2L461.0 937.8L461.9 940.9L463.3 943.3L464.2 945.9L466.0 948.0L467.1 946.8L468.7 944.7L469.6 942.9L470.3 939.8L470.0 936.8L472.1 935.4L473.4 934.5L475.9 932.5L478.2 930.4L480.4 928.7L482.3 927.5L484.2 927.0L485.8 926.2L487.7 926.2L488.5 928.4L489.6 930.2L491.4 932.6L491.7 935.7L493.1 936.3L494.9 935.1L496.4 935.1L496.7 937.5L497.9 940.6L497.6 945.1L497.6 947.9L499.7 950.5L500.7 952.8L501.7 955.8L504.0 957.5L505.5 958.4L506.7 958.3L505.5 954.8L505.4 952.3L503.5 950.9L502.2 949.9L500.7 947.6L499.9 945.1L499.0 942.9L500.2 940.6L501.6 940.0L501.7 941.0L503.7 941.8L504.8 943.6L507.0 944.4L507.8 946.7L510.4 945.1L512.4 943.6L514.2 942.1L514.3 939.8L513.6 937.1L511.1 934.9L509.6 932.9L508.9 931.4L510.1 929.4L511.6 927.6L513.1 927.5L514.9 927.6L515.7 929.6L516.2 928.1L518.0 927.5L520.7 926.5L521.9 926.2L524.5 925.5L526.8 924.1L528.6 922.9L529.8 921.4L530.3 919.5L531.4 918.0L533.3 916.2L533.6 913.4L532.9 912.1L531.8 910.5L531.1 908.1L529.5 907.0L530.9 905.5L532.1 904.6L534.4 903.7L532.9 903.2L531.4 903.1L529.1 903.7L528.3 902.4L527.0 901.5L527.6 900.6L529.5 900.2L532.1 898.2L533.0 899.4L532.4 901.2L533.9 900.5L535.9 899.7L537.1 899.6L538.2 900.2L538.7 902.4L540.5 903.2L540.5 905.5L540.2 907.6L542.0 907.6L544.3 906.9L545.0 905.5L544.9 903.7L543.5 901.7L542.0 899.9L544.0 898.2L545.5 897.1L546.9 895.9L548.8 894.5L551.1 895.1L554.2 893.6L557.2 891.0L559.5 888.3L561.5 886.0L561.8 883.4L563.0 880.6L561.8 879.1L558.7 878.2L556.4 878.0L555.7 877.1L553.7 877.0L557.2 874.7L560.2 872.7L563.3 870.9L566.3 869.8L570.1 870.0L573.9 870.0L577.7 870.3L580.0 870.4L583.0 869.8L583.8 868.1L586.8 866.3L591.4 866.2L596.0 865.2L595.2 867.4L592.2 869.2L588.4 872.0L586.1 873.5L585.0 875.8L585.3 879.6L586.4 882.6L588.8 880.3L591.4 878.0L594.4 875.3L596.4 872.3L594.7 871.6L597.5 869.2L600.8 868.3L605.1 868.1L608.1 867.7L611.2 866.6L615.0 865.9L618.0 865.1L620.7 865.4L620.7 863.6L618.5 862.0L619.5 861.6L621.8 861.3ZM254.1 858.7L251.7 861.3L248.6 862.2L249.9 864.5L248.6 865.9L244.8 865.2L239.5 864.6L235.7 862.2L230.4 862.0L229.6 861.0L236.5 860.1L237.7 857.8L234.2 856.2L228.9 853.6L225.1 854.0L217.5 853.3L212.9 852.4L211.4 851.4L214.4 848.3L219.0 848.0L225.8 848.0L231.9 849.5L237.2 850.9L241.8 852.6L244.8 853.3L246.4 854.9L244.8 855.8L248.3 856.9L251.7 858.2ZM216.7 862.3L219.8 860.2L222.8 861.7L225.8 862.8L222.0 863.4L218.2 864.0L216.0 863.3ZM167.3 851.8L169.6 849.5L174.9 848.6L181.8 849.5L186.3 848.9L189.4 851.4L192.4 852.6L194.7 853.6L191.6 855.5L185.6 855.2L178.0 854.6L171.1 854.3L168.8 852.9ZM157.6 850.8L158.2 848.2L162.0 846.9L168.8 847.4L172.6 848.5L165.8 850.9L160.8 851.8ZM170.4 844.5L178.0 843.3L187.1 844.7L184.8 846.0L178.0 846.8L171.1 846.2ZM208.1 844.0L214.4 843.6L225.8 844.2L225.1 846.0L214.4 846.8L208.4 846.3L207.6 845.0ZM212.2 843.4L222.0 843.9L229.6 843.9L233.4 841.0L238.0 840.2L237.2 838.7L244.8 837.5L252.4 836.0L254.0 834.6L241.8 833.7L229.6 833.8L217.5 834.9L209.9 836.9L203.0 838.4L204.6 839.9L210.6 840.7L214.4 841.8ZM202.3 839.2L209.9 837.6L211.4 839.2L205.3 841.0L200.8 840.7ZM194.7 847.5L201.5 847.7L200.3 850.6L196.2 851.4L192.4 849.8ZM203.8 847.5L210.6 847.7L206.8 850.3L203.0 849.8ZM193.2 843.7L200.8 844.0L199.2 845.6L193.2 845.3ZM162.8 843.7L170.4 842.5L171.9 844.2L165.8 844.7ZM190.1 840.4L196.2 840.2L198.5 841.5L193.2 842.1ZM202.3 845.3L206.1 845.1L206.1 846.5L202.3 846.3ZM197.7 854.3L201.5 854.0L203.0 855.5L199.2 856.1ZM237.2 841.5L244.8 844.5L257.0 844.5L263.1 846.8L266.1 852.1L269.9 855.2L266.9 859.0L270.7 862.8L274.5 866.6L280.6 868.9L282.8 868.1L285.9 864.3L290.4 860.5L299.6 856.7L310.2 854.4L314.8 852.1L314.0 849.1L319.3 846.8L320.8 843.0L319.3 839.2L330.0 836.1L317.8 834.6L302.6 833.1L279.8 834.6L257.0 835.4L246.4 837.6L238.8 839.9ZM311.7 860.5L314.8 859.1L323.9 859.0L327.7 861.0L325.4 862.3L320.8 863.7L314.0 863.1L314.8 861.6ZM258.1 887.8L263.1 887.8L266.7 889.2L268.1 887.8L266.9 886.4L266.9 884.9L263.8 884.5L263.8 881.9L262.3 881.9L260.8 883.4L259.3 885.7ZM160.6 886.7L158.5 886.3L155.9 885.1L153.2 882.9L155.2 883.1L158.2 884.1ZM219.2 927.0L222.0 925.5L225.1 925.0L227.4 925.9L230.4 927.5L233.3 928.4L235.4 929.6L233.0 930.1L230.1 930.1L229.6 928.7L226.6 927.2L223.6 926.4L220.5 927.2ZM235.1 932.0L237.5 930.1L241.8 930.4L244.4 932.0L241.8 932.6L239.5 933.6L237.2 932.9L235.1 932.5ZM229.2 932.3L232.2 932.6L231.5 933.3L229.6 932.8ZM246.1 932.2L248.5 932.5L248.3 932.9L246.1 932.9ZM111.2 929.6L112.4 930.2L112.8 930.7L111.7 931.6L111.1 930.5ZM110.0 928.4L111.1 928.5L110.8 929.0L110.0 928.7ZM107.6 927.5L108.5 927.8L108.2 928.1L107.7 927.9ZM105.3 926.5L106.1 926.5L105.9 927.0L105.5 927.0ZM235.7 898.5L238.8 897.7L238.9 898.0L236.5 898.5ZM250.2 884.3L254.4 885.1L254.0 885.5L250.9 884.6ZM250.5 889.3L254.0 889.5L253.2 890.2L250.9 889.9ZM87.1 863.1L91.3 863.9L90.6 864.5L87.5 864.0ZM113.4 871.6L116.9 872.0L114.9 873.9L113.4 873.2ZM146.0 877.7L148.3 878.8L148.3 880.8L146.8 879.9ZM339.5 884.0L343.6 883.2L350.2 882.5L350.8 880.0L348.7 878.8L347.4 877.3L345.8 875.6L344.7 874.2L345.5 872.6L343.2 871.0L340.6 871.0L338.8 872.7L339.7 874.5L338.8 875.8L340.8 876.8L343.3 876.7L343.0 877.6L343.6 879.0L341.2 879.1L342.0 880.6L340.3 881.4L342.9 881.9L341.7 882.3ZM339.1 880.8L339.1 878.5L339.8 877.1L338.3 876.1L335.6 876.2L335.3 877.6L333.0 877.7L333.3 879.1L332.5 881.1L333.8 881.7L336.0 881.4L338.5 880.8ZM364.9 840.7L368.0 838.9L374.0 838.4L381.6 837.8L389.2 838.2L383.9 839.9L380.9 841.1L375.6 843.0L372.5 843.7L369.5 842.7L368.0 841.5ZM427.2 851.4L432.6 848.6L434.8 846.0L440.9 844.2L448.5 843.1L452.3 843.4L445.5 845.6L437.9 847.5L434.5 849.4L433.0 852.1L435.6 852.7L429.5 852.6ZM419.6 837.2L427.2 836.4L436.4 835.8L444.0 836.6L439.4 837.8L430.3 838.4L422.7 837.9ZM492.6 839.2L497.2 837.2L503.2 836.6L507.8 837.9L506.3 839.9L500.2 841.1L495.6 840.2ZM554.9 845.3L562.5 844.5L568.6 845.3L576.2 845.6L573.2 846.5L564.0 847.7L558.0 847.5ZM619.5 851.4L621.8 851.2L621.8 852.3L619.8 852.4ZM564.0 890.2L566.3 889.5L565.6 884.9L567.8 885.7L565.9 881.9L566.0 879.3L565.0 877.6L563.6 878.8L564.3 882.6L563.9 887.2L563.9 889.5ZM561.0 897.1L562.8 896.7L565.9 896.4L569.8 894.4L568.9 892.8L564.0 891.0L563.4 893.3L563.1 894.5L561.3 895.1ZM547.2 908.5L549.6 906.3L552.6 906.1L554.9 905.8L556.1 903.7L557.2 904.3L559.5 902.6L560.7 900.2L561.0 898.2L562.4 897.1L563.3 898.6L564.0 900.6L562.5 902.1L562.4 904.1L561.9 906.0L560.7 907.0L559.2 907.6L556.4 907.6L556.1 908.1L554.6 909.3L553.4 907.8L550.4 907.9L547.3 908.7ZM545.5 909.3L547.3 908.7L548.8 910.1L547.8 912.5L546.6 913.0L545.8 910.8ZM549.6 909.6L552.9 908.2L552.3 909.6L550.4 910.5ZM530.8 925.3L532.1 922.0L533.6 922.3L532.7 926.1L531.8 927.0ZM513.3 931.1L515.4 929.7L516.9 930.5L515.4 932.5L513.4 932.2ZM530.6 932.2L533.9 932.2L533.6 936.0L536.7 939.4L532.9 939.4L531.4 938.3L530.6 935.5ZM533.6 949.7L535.9 947.3L539.0 945.6L540.5 949.7L539.0 951.7L536.7 950.5ZM533.6 942.3L535.5 943.3L534.4 944.4L533.5 944.2ZM537.1 941.3L539.3 941.8L538.5 944.8L537.3 944.4ZM534.4 943.8L535.9 944.4L535.2 946.5L534.4 945.6ZM526.3 947.6L530.0 943.3L530.3 943.9L527.1 947.7ZM513.9 958.1L514.9 957.4L517.7 956.3L520.0 955.5L522.2 953.4L524.5 951.2L526.3 949.7L528.3 952.0L529.5 952.6L527.6 953.8L527.1 955.8L527.6 958.9L526.8 960.4L526.3 961.9L525.3 964.2L524.5 966.5L522.2 966.7L520.0 965.3L516.9 965.0L515.7 964.7L515.4 962.7L514.2 960.4ZM493.1 951.9L496.4 952.5L497.9 954.3L500.7 957.0L502.5 957.8L505.8 961.2L507.0 963.1L509.3 965.0L509.3 969.4L507.0 969.2L503.5 966.5L501.7 964.2L500.2 961.6L498.2 957.7L496.4 955.8L494.1 953.5ZM529.8 968.8L529.7 965.7L528.8 964.5L530.3 959.6L531.4 959.2L535.2 959.0L537.9 958.1L537.3 959.8L532.9 959.6L531.4 961.6L532.9 961.9L535.6 961.8L532.9 963.3L534.4 967.3L532.1 964.7L531.4 964.8L531.2 968.8ZM542.0 961.2L543.1 958.1L543.8 957.0L542.8 959.6L543.8 960.4L542.8 961.6ZM547.3 962.4L548.8 961.0L551.9 961.8L552.2 964.2L554.2 965.4L557.2 962.7L559.5 963.8L562.5 964.4L567.1 966.2L569.7 967.3L570.1 968.8L572.4 969.5L576.2 978.7L547.3 978.7ZM469.5 950.9L469.5 947.4L470.1 945.5L471.3 947.4L472.5 949.3L472.2 950.6L470.7 951.4ZM397.3 907.0L398.4 906.4L400.8 906.0L399.9 907.2L398.4 907.6ZM383.9 906.6L388.2 906.6L388.0 907.0L384.1 906.7ZM367.0 902.3L371.9 902.0L371.2 904.4L367.2 903.1ZM361.0 900.9L360.7 897.9L362.3 897.6L363.1 898.6L362.8 900.8ZM361.3 897.1L362.2 897.3L362.6 894.8L361.4 895.4ZM429.2 941.2L431.0 941.2L430.6 941.6L429.5 941.6ZM364.9 876.1L367.2 875.6L366.9 874.8L365.2 875.2ZM363.1 875.9L364.5 875.8L364.2 876.5L363.4 876.4ZM93.4 878.2L95.0 877.7L96.5 878.2L95.0 878.7ZM90.3 879.6L91.6 879.0L93.0 879.6L91.6 880.1ZM88.3 880.0L89.0 879.5L89.8 880.0L89.0 880.6ZM84.0 880.6L85.5 880.1L87.1 880.6L85.5 881.2ZM81.4 880.9L82.8 880.4L84.2 880.9L82.8 881.5ZM78.6 881.3L79.8 880.7L81.0 881.3L79.8 881.8ZM76.3 881.4L77.3 880.9L78.4 881.4L77.3 881.9ZM74.8 881.9L75.4 881.3L76.0 881.9L75.4 882.4ZM100.4 877.3L101.2 876.8L102.0 877.3L101.2 877.8ZM104.2 876.1L105.0 875.5L105.8 876.1L105.0 876.6ZM618.6 881.4L619.5 880.9L620.4 881.4L619.5 881.9ZM616.9 881.1L617.7 880.6L618.5 881.1L617.7 881.6ZM610.1 879.9L611.6 879.3L613.1 879.9L611.6 880.4ZM612.7 880.5L613.4 880.0L614.2 880.5L613.4 881.0ZM569.8 893.6L570.9 893.1L571.9 893.6L570.9 894.1ZM571.8 892.4L572.9 891.9L573.9 892.4L572.9 892.8ZM573.6 891.2L574.7 890.7L575.7 891.2L574.7 891.6ZM575.9 889.9L577.0 889.5L578.0 889.9L577.0 890.4ZM578.2 888.4L579.2 888.0L580.3 888.4L579.2 888.9ZM580.5 886.9L581.5 886.4L582.6 886.9L581.5 887.4ZM582.0 885.4L583.0 884.9L584.1 885.4L583.0 885.8ZM584.0 883.7L585.0 883.2L586.1 883.7L585.0 884.1ZM599.2 876.4L600.5 875.9L601.9 876.4L600.5 876.8ZM229.0 923.0L229.9 922.5L230.9 923.0L229.9 923.6ZM231.0 922.0L231.9 921.4L232.8 922.0L231.9 922.5ZM229.5 919.8L230.4 919.3L231.3 919.8L230.4 920.4ZM232.1 924.6L233.0 924.0L233.9 924.6L233.0 925.1ZM234.0 926.1L235.0 925.6L235.9 926.1L235.0 926.6ZM235.6 928.1L236.5 927.5L237.4 928.1L236.5 928.6ZM254.5 936.9L255.0 936.4L255.6 936.9L255.0 937.4ZM254.9 938.1L255.5 937.6L256.0 938.1L255.5 938.7ZM254.0 935.7L254.6 935.2L255.1 935.7L254.6 936.2ZM253.7 934.3L254.3 933.8L254.8 934.3L254.3 934.9ZM254.6 940.3L255.2 939.7L255.7 940.3L255.2 940.8ZM254.0 941.9L254.6 941.4L255.1 941.9L254.6 942.5ZM254.5 944.2L255.0 943.7L255.6 944.2L255.0 944.8ZM251.9 932.6L252.4 932.1L253.0 932.6L252.4 933.2ZM249.3 932.3L249.9 931.8L250.4 932.3L249.9 932.9ZM324.0 917.7L324.6 917.2L325.3 917.7L324.6 918.2ZM322.3 917.4L323.0 916.9L323.7 917.4L323.0 917.9ZM326.2 916.9L326.9 916.4L327.6 916.9L326.9 917.5ZM327.0 916.2L327.7 915.6L328.4 916.2L327.7 916.7ZM320.5 916.8L321.1 916.3L321.8 916.8L321.1 917.3ZM321.7 910.5L322.4 910.0L323.0 910.5L322.4 911.1ZM311.8 937.5L312.5 937.0L313.2 937.5L312.5 938.1ZM310.6 935.1L311.3 934.6L311.9 935.1L311.3 935.6ZM309.5 934.5L310.2 933.9L310.9 934.5L310.2 935.0ZM312.9 935.8L313.5 935.3L314.2 935.8L313.5 936.4ZM305.0 901.5L305.6 901.0L306.3 901.5L305.6 902.1ZM308.8 902.8L309.4 902.2L310.1 902.8L309.4 903.3ZM300.2 900.3L300.9 899.8L301.6 900.3L300.9 900.8ZM336.6 865.7L337.6 865.2L338.5 865.7L337.6 866.2ZM345.3 868.4L346.2 868.0L347.1 868.4L346.2 868.9ZM342.7 870.4L343.6 870.0L344.6 870.4L343.6 870.9ZM367.8 856.4L368.7 855.9L369.6 856.4L368.7 856.9ZM370.1 855.5L371.0 855.0L371.9 855.5L371.0 855.9ZM104.1 927.0L104.7 926.5L105.3 927.0L104.7 927.5ZM109.0 928.2L109.6 927.8L110.2 928.2L109.6 928.7ZM101.5 925.3L102.1 924.9L102.7 925.3L102.1 925.8ZM94.8 924.0L95.4 923.5L96.0 924.0L95.4 924.4ZM90.0 934.9L90.6 934.5L91.2 934.9L90.6 935.4ZM86.6 949.6L87.2 949.1L87.8 949.6L87.2 950.0ZM92.7 947.0L93.3 946.5L93.9 947.0L93.3 947.4ZM88.9 943.3L89.5 942.9L90.1 943.3L89.5 943.8ZM91.2 938.1L91.8 937.7L92.4 938.1L91.8 938.6ZM79.2 960.1L79.8 959.6L80.4 960.1L79.8 960.6ZM101.2 951.4L101.8 950.9L102.4 951.4L101.8 951.9ZM569.1 937.2L569.7 936.8L570.3 937.2L569.7 937.7ZM567.7 940.0L568.3 939.5L568.9 940.0L568.3 940.4ZM569.2 932.9L569.8 932.5L570.4 932.9L569.8 933.4ZM552.0 949.1L552.6 948.7L553.2 949.1L552.6 949.6ZM557.5 945.9L558.1 945.5L558.7 945.9L558.1 946.4ZM578.3 949.1L578.9 948.7L579.5 949.1L578.9 949.6ZM588.1 949.9L588.7 949.4L589.3 949.9L588.7 950.3ZM595.4 952.3L596.0 951.9L596.6 952.3L596.0 952.8ZM608.1 949.6L608.7 949.1L609.3 949.6L608.7 950.0ZM605.2 951.6L605.8 951.1L606.4 951.6L605.8 952.0ZM610.6 958.4L611.2 958.0L611.8 958.4L611.2 958.9ZM602.5 946.4L603.1 945.9L603.7 946.4L603.1 946.8ZM580.9 967.1L581.5 966.7L582.1 967.1L581.5 967.6ZM578.6 966.5L579.2 966.0L579.8 966.5L579.2 967.0ZM576.4 964.4L577.0 963.9L577.6 964.4L577.0 964.8ZM571.0 963.6L571.6 963.1L572.2 963.6L571.6 964.1ZM210.0 961.2L210.6 960.7L211.2 961.2L210.6 961.6ZM208.8 961.6L209.4 961.2L210.0 961.6L209.4 962.1ZM226.0 962.7L226.6 962.2L227.2 962.7L226.6 963.1ZM488.6 941.3L489.1 940.8L489.6 941.3L489.1 941.9ZM488.7 942.9L489.3 942.3L489.8 942.9L489.3 943.4ZM489.8 948.2L490.3 947.7L490.9 948.2L490.3 948.7ZM459.4 954.3L459.9 953.8L460.5 954.3L459.9 954.8ZM459.2 956.6L459.8 956.1L460.3 956.6L459.8 957.1ZM459.4 951.2L459.9 950.7L460.5 951.2L459.9 951.8ZM458.2 943.6L458.7 943.1L459.2 943.6L458.7 944.2ZM432.0 967.4L432.6 966.9L433.1 967.4L432.6 967.9ZM435.1 961.2L435.6 960.6L436.1 961.2L435.6 961.7ZM352.0 900.0L352.8 899.6L353.5 900.0L352.8 900.5ZM349.6 901.1L350.3 900.6L351.1 901.1L350.3 901.5ZM353.7 899.4L354.4 898.9L355.2 899.4L354.4 899.9ZM390.0 905.2L390.8 904.7L391.5 905.2L390.8 905.7ZM369.3 905.7L370.1 905.2L370.8 905.7L370.1 906.1ZM384.7 898.3L385.4 897.9L386.2 898.3L385.4 898.8ZM386.2 899.4L387.0 898.9L387.7 899.4L387.0 899.9ZM508.1 963.8L509.3 963.1L510.5 963.8L509.3 964.4ZM543.8 965.1L545.0 964.4L546.3 965.1L545.0 965.8ZM539.4 965.6L540.6 964.9L541.8 965.6L540.6 966.3ZM540.8 961.3L542.0 960.6L543.2 961.3L542.0 962.0ZM539.7 954.1L540.9 953.5L542.2 954.1L540.9 954.8ZM537.7 955.1L539.0 954.4L540.2 955.1L539.0 955.7ZM511.4 954.3L512.7 953.6L513.9 954.3L512.7 955.0ZM495.3 958.7L496.6 958.0L497.8 958.7L496.6 959.4ZM493.1 956.4L494.3 955.7L495.5 956.4L494.3 957.1ZM545.8 961.3L547.0 960.6L548.2 961.3L547.0 962.0ZM546.4 962.2L547.6 961.5L548.8 962.2L547.6 962.9ZM334.1 852.1L335.3 851.7L336.5 852.1L335.3 852.6ZM375.9 846.9L377.1 846.5L378.3 846.9L377.1 847.4ZM383.5 842.1L384.7 841.6L385.9 842.1L384.7 842.5ZM389.5 840.2L390.8 839.8L392.0 840.2L390.8 840.7Z" fill="#cccccc"/>
<g clip-path="url(#landclip)">
<path d="M74.0 846.0L150.0 846.0L180.0 848.0L200.0 851.0L215.0 856.0L236.0 857.0L246.0 856.0L256.0 857.0L262.0 866.0L268.0 872.0L276.0 884.0L272.0 890.0L250.0 890.0L240.0 892.0L234.0 899.0L229.0 902.0L224.0 904.0L216.0 903.5L209.0 902.0L203.0 899.5L196.0 898.0L189.4 899.4L186.8 904.7L180.2 899.4L176.3 903.4L167.0 902.0L161.0 900.0L159.5 894.2L157.0 887.6L154.5 882.3L150.5 877.0L147.6 876.0L142.3 872.5L135.8 869.6L126.6 867.6L117.4 868.9L106.9 870.9L95.0 866.3L74.0 866.0ZM150.0 826.0L236.0 826.0L236.0 842.0L240.0 846.0L246.0 850.0L254.0 856.0L258.0 859.0L246.0 856.0L236.0 857.0L215.0 856.0L200.0 855.0L185.0 855.0L170.0 854.0L150.0 852.0ZM350.0 852.0L424.0 852.0L427.0 854.5L452.0 854.5L454.0 846.0L480.0 845.5L500.0 845.0L520.0 844.0L540.0 846.0L552.0 849.0L590.0 849.5L606.0 850.0L622.0 851.0L622.0 880.0L600.0 886.0L575.0 900.0L565.0 910.0L552.0 908.0L545.0 903.0L540.0 900.0L535.7 895.0L526.2 892.6L520.0 893.0L507.0 895.0L494.0 895.0L484.0 895.0L476.0 894.5L468.0 893.5L460.0 893.0L458.0 895.5L452.0 896.5L440.0 895.5L431.5 895.5L424.5 889.8L423.0 893.0L425.0 900.0L428.0 906.0L424.0 908.0L418.0 908.0L412.0 904.0L405.0 903.5L398.0 903.0L392.0 901.0L389.6 898.0L385.3 900.9L380.9 899.4L376.5 896.5L372.0 895.0L366.3 893.6L359.0 893.0L357.5 890.7L359.0 884.8L366.0 878.0L363.0 874.0L356.0 870.0L352.0 866.0ZM458.0 907.0L463.0 903.0L470.0 902.5L478.0 901.5L486.0 902.5L494.0 901.0L503.0 903.0L508.0 906.5L506.0 912.0L499.0 916.5L489.0 917.0L480.0 917.5L472.0 915.5L464.0 912.0L459.0 910.0ZM446.0 909.0L452.0 903.0L460.0 898.0L470.0 895.0L478.0 894.0L476.0 897.0L466.0 901.0L458.0 905.0L450.0 910.0ZM308.0 856.0L332.0 856.0L332.0 866.0L308.0 866.0ZM264.0 852.0L268.0 852.0L269.0 858.0L266.0 858.0Z" fill="#e33e3e"/>
<path d="M74.0 846.0L150.0 846.0L150.0 826.0L236.0 826.0L236.0 842.0L240.0 846.0L246.0 850.0L254.0 856.0L246.0 858.0L236.0 860.0L215.0 862.0L200.0 862.0L185.0 866.0L170.0 868.0L150.0 866.0L130.0 864.0L115.0 864.0L100.0 860.0L74.0 858.0Z" fill="#fff" fill-opacity="0.42" filter="url(#blur3)"/>
<path d="M150.0 826.0L236.0 826.0L236.0 842.0L240.0 846.0L246.0 850.0L254.0 856.0L258.0 859.0L246.0 856.0L236.0 857.0L215.0 856.0L200.0 855.0L185.0 855.0L170.0 854.0L150.0 852.0Z" fill="#fff" fill-opacity="0.62"/>
<path d="M490.0 846.0L622.0 846.0L622.0 858.0L604.0 864.0L598.0 866.0L584.0 866.0L575.0 872.0L560.0 878.0L548.0 884.0L538.0 890.0L525.0 895.0L510.0 893.0L500.0 885.0L492.0 872.0L486.0 858.0Z" fill="#fff" fill-opacity="0.68" filter="url(#blur3)"/>
<path d="M420.0 872.0L460.0 866.0L492.0 862.0L505.0 880.0L520.0 896.0L505.0 900.0L480.0 895.0L455.0 892.0L430.0 892.0Z" fill="#fff" fill-opacity="0.28" filter="url(#blur3)"/>
<path d="M461.0 901.0L484.0 901.0L489.0 916.0L475.0 919.0L462.0 913.0Z" fill="#fff" fill-opacity="0.55" filter="url(#blur3)"/>
<path d="M264.0 852.0L268.0 852.0L269.0 858.0L266.0 858.0Z" fill="#fff" fill-opacity="0.4"/>
<path d="M533.0 852.0L560.0 851.0L576.0 856.0L570.0 864.0L548.0 865.0L535.0 860.0Z" fill="#f4ffc0" fill-opacity="0.5" filter="url(#blur3)"/>
<clipPath id="redclip"><path d="M74.0 846.0L150.0 846.0L180.0 848.0L200.0 851.0L215.0 856.0L236.0 857.0L246.0 856.0L256.0 857.0L262.0 866.0L268.0 872.0L276.0 884.0L272.0 890.0L250.0 890.0L240.0 892.0L234.0 899.0L229.0 902.0L224.0 904.0L216.0 903.5L209.0 902.0L203.0 899.5L196.0 898.0L189.4 899.4L186.8 904.7L180.2 899.4L176.3 903.4L167.0 902.0L161.0 900.0L159.5 894.2L157.0 887.6L154.5 882.3L150.5 877.0L147.6 876.0L142.3 872.5L135.8 869.6L126.6 867.6L117.4 868.9L106.9 870.9L95.0 866.3L74.0 866.0ZM150.0 826.0L236.0 826.0L236.0 842.0L240.0 846.0L246.0 850.0L254.0 856.0L258.0 859.0L246.0 856.0L236.0 857.0L215.0 856.0L200.0 855.0L185.0 855.0L170.0 854.0L150.0 852.0ZM350.0 852.0L424.0 852.0L427.0 854.5L452.0 854.5L454.0 846.0L480.0 845.5L500.0 845.0L520.0 844.0L540.0 846.0L552.0 849.0L590.0 849.5L606.0 850.0L622.0 851.0L622.0 880.0L600.0 886.0L575.0 900.0L565.0 910.0L552.0 908.0L545.0 903.0L540.0 900.0L535.7 895.0L526.2 892.6L520.0 893.0L507.0 895.0L494.0 895.0L484.0 895.0L476.0 894.5L468.0 893.5L460.0 893.0L458.0 895.5L452.0 896.5L440.0 895.5L431.5 895.5L424.5 889.8L423.0 893.0L425.0 900.0L428.0 906.0L424.0 908.0L418.0 908.0L412.0 904.0L405.0 903.5L398.0 903.0L392.0 901.0L389.6 898.0L385.3 900.9L380.9 899.4L376.5 896.5L372.0 895.0L366.3 893.6L359.0 893.0L357.5 890.7L359.0 884.8L366.0 878.0L363.0 874.0L356.0 870.0L352.0 866.0ZM458.0 907.0L463.0 903.0L470.0 902.5L478.0 901.5L486.0 902.5L494.0 901.0L503.0 903.0L508.0 906.5L506.0 912.0L499.0 916.5L489.0 917.0L480.0 917.5L472.0 915.5L464.0 912.0L459.0 910.0ZM446.0 909.0L452.0 903.0L460.0 898.0L470.0 895.0L478.0 894.0L476.0 897.0L466.0 901.0L458.0 905.0L450.0 910.0ZM308.0 856.0L332.0 856.0L332.0 866.0L308.0 866.0ZM264.0 852.0L268.0 852.0L269.0 858.0L266.0 858.0Z"/></clipPath>
<g clip-path="url(#redclip)"><rect x="74" y="824" width="548" height="144" fill="#fff" filter="url(#mottle)"/></g>
<path d="M74.0 846.0L150.0 846.0L180.0 848.0L200.0 851.0L215.0 856.0L236.0 857.0L246.0 856.0L256.0 857.0L262.0 866.0L268.0 872.0L276.0 884.0L272.0 890.0L250.0 890.0L240.0 892.0L234.0 899.0L229.0 902.0L224.0 904.0L216.0 903.5L209.0 902.0L203.0 899.5L196.0 898.0L189.4 899.4L186.8 904.7L180.2 899.4L176.3 903.4L167.0 902.0L161.0 900.0L159.5 894.2L157.0 887.6L154.5 882.3L150.5 877.0L147.6 876.0L142.3 872.5L135.8 869.6L126.6 867.6L117.4 868.9L106.9 870.9L95.0 866.3L74.0 866.0ZM350.0 852.0L424.0 852.0L427.0 854.5L452.0 854.5L454.0 846.0L480.0 845.5L500.0 845.0L520.0 844.0L540.0 846.0L552.0 849.0L590.0 849.5L606.0 850.0L622.0 851.0L622.0 880.0L600.0 886.0L575.0 900.0L565.0 910.0L552.0 908.0L545.0 903.0L540.0 900.0L535.7 895.0L526.2 892.6L520.0 893.0L507.0 895.0L494.0 895.0L484.0 895.0L476.0 894.5L468.0 893.5L460.0 893.0L458.0 895.5L452.0 896.5L440.0 895.5L431.5 895.5L424.5 889.8L423.0 893.0L425.0 900.0L428.0 906.0L424.0 908.0L418.0 908.0L412.0 904.0L405.0 903.5L398.0 903.0L392.0 901.0L389.6 898.0L385.3 900.9L380.9 899.4L376.5 896.5L372.0 895.0L366.3 893.6L359.0 893.0L357.5 890.7L359.0 884.8L366.0 878.0L363.0 874.0L356.0 870.0L352.0 866.0ZM458.0 907.0L463.0 903.0L470.0 902.5L478.0 901.5L486.0 902.5L494.0 901.0L503.0 903.0L508.0 906.5L506.0 912.0L499.0 916.5L489.0 917.0L480.0 917.5L472.0 915.5L464.0 912.0L459.0 910.0ZM446.0 909.0L452.0 903.0L460.0 898.0L470.0 895.0L478.0 894.0L476.0 897.0L466.0 901.0L458.0 905.0L450.0 910.0Z" fill="url(#hatch)"/>
<path d="M163.5 889.0L167.5 888.5L169.0 891.5L166.0 893.5L163.5 892.0ZM167.0 896.0L171.0 894.0L176.0 896.5L177.0 900.0L173.0 902.0L168.0 901.0ZM179.0 893.0L183.0 893.5L182.0 896.0L179.5 895.5Z" fill="#cccccc"/>
</g>
<path d="M92.7 860.4L95.1 859.6L98.9 859.0L102.0 858.4L99.2 857.2L94.7 856.2L95.6 855.2L100.4 853.2L105.0 852.4L110.3 851.7L117.2 852.3L122.5 853.2L130.1 853.5L133.9 854.2L136.9 854.4L140.7 855.3L143.8 854.4L149.1 854.3L152.1 853.6L155.2 853.3L158.2 854.6L162.8 854.0L165.8 854.6L170.4 855.2L174.9 856.2L179.5 857.0L184.0 857.0L187.1 855.9L190.1 856.7L194.7 857.2L198.5 857.0L202.3 856.2L203.8 854.4L201.5 851.4L204.6 850.8L207.6 852.9L209.1 854.4L212.2 855.5L214.4 856.2L216.7 857.5L218.2 854.4L220.5 854.0L223.6 855.2L224.3 857.5L222.0 859.3L218.2 859.0L216.3 860.5L214.4 862.5L211.4 863.3L209.9 864.6L206.1 866.9L204.6 868.9L204.4 870.7L206.5 870.9L207.9 873.2L210.6 873.2L213.7 874.2L217.5 875.5L219.0 876.1L222.0 876.2L223.3 878.0L223.0 879.7L224.3 880.8L225.8 882.0L227.4 881.9L228.6 880.6L228.1 878.0L230.7 875.8L231.8 874.2L230.7 871.5L229.2 870.7L230.4 869.2L229.9 867.4L230.4 865.4L233.4 865.4L236.5 865.7L239.5 867.1L242.1 867.5L242.6 870.4L244.1 870.9L245.6 871.6L247.9 870.9L250.2 868.4L251.7 871.2L254.0 873.0L254.9 874.8L257.8 876.1L260.0 877.6L261.3 879.3L263.4 881.1L261.9 882.0L258.8 882.8L256.2 883.8L251.7 883.7L247.1 883.8L244.1 885.4L241.8 886.7L242.6 886.9L246.4 885.5L250.5 885.8L249.4 887.0L249.7 888.4L250.2 889.9L252.4 890.7L254.7 890.7L256.7 889.9L257.3 890.4L255.5 891.3L251.7 892.5L248.6 894.1L247.6 892.7L250.2 891.3L246.7 891.6L244.8 892.7L241.5 893.9L240.6 895.4L241.8 896.7L240.0 897.1L237.5 897.6L235.7 898.5L235.6 899.9L234.4 901.1L233.4 900.3L234.0 902.1L232.7 903.7L233.3 905.5L233.4 906.6L231.9 907.5L229.8 908.7L227.8 909.8L225.4 911.3L224.5 913.4L224.6 915.4L225.7 917.4L226.4 919.5L226.0 921.8L224.9 922.0L223.9 920.6L222.5 918.3L222.3 916.5L221.1 914.8L219.9 914.6L218.4 915.1L216.7 914.0L214.4 914.0L212.3 914.3L212.6 915.9L211.1 916.0L209.1 915.4L206.1 915.1L204.1 915.6L201.5 917.2L200.3 918.8L200.3 920.9L199.7 923.5L199.5 926.4L200.3 928.4L201.7 930.8L203.2 931.9L204.9 932.6L207.8 932.0L209.6 931.7L210.6 930.2L210.9 928.4L213.7 927.6L216.0 927.6L215.2 929.4L214.9 931.7L214.1 933.4L214.0 935.5L213.2 936.3L215.2 936.3L218.2 936.2L220.5 936.9L221.7 937.5L221.3 939.8L221.1 942.9L221.7 944.5L223.3 946.4L225.1 947.0L227.2 945.8L229.6 946.4L230.7 947.4L231.9 947.0L233.1 945.9L233.7 943.9L235.4 943.3L237.2 942.9L238.5 942.1L239.8 941.6L239.1 942.9L239.5 943.9L238.9 945.1L240.1 945.3L239.8 943.5L241.5 942.7L241.8 941.9L242.6 942.9L244.4 943.8L247.1 944.2L250.2 944.8L251.7 944.2L254.0 944.1L254.7 945.5L255.9 947.3L257.3 947.7L259.3 949.7L260.8 951.1L263.8 951.4L266.1 951.9L268.4 952.9L269.9 954.0L270.7 955.1L271.4 957.7L272.2 959.6L273.7 961.2L276.0 961.5L279.8 962.7L281.0 964.4L283.6 964.7L287.4 964.7L289.7 966.0L292.0 967.7L294.2 968.5L295.0 971.1L295.3 975.6L296.5 978.7L223.6 978.7L225.1 969.5L224.8 967.3L226.1 965.7L226.9 963.9L225.4 962.7L226.4 960.4L226.6 959.0L228.1 958.0L228.6 956.4L230.4 954.6L230.7 951.2L229.9 949.3L229.0 947.7L227.4 946.8L226.0 947.7L226.3 949.1L224.3 948.7L222.2 948.0L221.0 946.7L219.5 945.6L218.1 945.0L217.9 943.5L216.7 941.8L215.0 940.4L213.7 940.3L211.7 939.8L209.3 939.2L207.9 938.1L205.5 936.0L204.4 935.7L201.5 936.5L199.2 935.8L196.5 934.9L193.3 933.1L190.9 932.5L188.8 931.0L187.7 929.3L188.1 927.5L187.1 925.6L185.0 923.5L182.7 921.4L181.2 919.5L179.9 918.0L178.1 916.5L176.7 914.3L175.5 912.7L173.7 911.9L174.0 913.4L174.6 915.0L176.1 916.5L177.2 918.6L178.7 920.8L180.1 923.0L181.8 925.0L180.7 925.3L179.2 923.2L177.7 922.0L177.2 920.0L174.6 918.8L174.2 917.7L174.6 916.6L172.3 914.2L171.0 912.4L170.1 910.5L169.6 909.5L168.2 908.9L166.9 908.1L164.9 907.8L164.4 906.4L162.9 904.7L162.0 903.2L161.2 902.1L160.0 900.2L159.3 898.9L159.6 897.1L159.0 895.1L159.7 892.5L159.9 889.9L159.4 888.4L158.7 886.6L160.5 886.9L161.5 885.7L160.5 884.9L158.2 883.8L155.9 883.2L153.9 882.3L153.6 880.6L151.4 879.1L150.1 877.6L149.7 875.8L147.9 874.7L145.3 872.7L143.0 871.2L140.7 871.5L138.7 870.4L135.9 869.4L133.1 868.9L130.1 868.9L127.0 868.3L124.0 867.7L122.5 868.6L120.2 869.5L117.9 870.1L117.9 868.4L119.9 867.1L116.7 868.3L114.9 870.0L113.7 871.5L111.1 872.7L108.8 874.1L105.8 875.3L102.7 876.1L100.1 876.8L97.7 877.3L99.7 876.4L102.3 875.3L104.5 874.2L106.8 872.7L108.8 871.5L107.7 870.7L104.5 870.6L102.3 871.0L101.7 869.2L98.9 868.1L97.1 867.1L95.9 866.3L97.4 864.6L98.2 864.0L101.2 863.6L103.5 862.5L103.2 861.6L100.4 861.9L96.6 862.0L94.7 861.0ZM74.6 855.3L77.6 855.8L81.0 857.0L83.0 857.9L87.2 858.2L90.1 859.4L90.3 859.6L89.0 860.4L86.5 862.2L84.5 862.3L82.2 861.0L79.9 860.5L76.9 861.0L74.6 861.3ZM621.8 855.3L617.2 854.3L612.7 853.8L608.1 853.6L605.1 854.1L602.0 854.3L597.5 854.1L592.9 854.3L590.6 852.4L585.3 852.0L579.2 852.3L576.2 851.2L570.1 850.0L564.0 849.5L560.2 850.1L556.4 851.5L550.4 851.5L546.6 852.4L544.3 850.9L542.8 849.4L540.5 848.3L536.7 848.0L532.1 849.1L527.6 848.3L521.5 848.0L518.4 847.7L513.9 848.3L510.1 848.8L512.4 846.8L516.9 845.3L520.7 844.2L513.9 843.3L507.8 842.1L506.7 841.9L501.7 843.6L495.6 844.5L491.1 844.7L483.5 845.4L480.4 846.8L479.7 847.9L475.1 848.2L470.6 848.3L470.9 850.3L467.5 850.1L465.2 850.8L463.0 852.9L460.4 854.4L461.4 857.5L458.4 859.0L456.9 857.5L458.4 855.2L458.9 852.9L458.7 849.8L455.4 848.5L453.1 849.4L452.3 851.4L450.0 852.9L450.0 854.4L448.5 855.2L446.2 854.7L440.9 854.0L437.9 855.6L433.3 855.9L430.3 856.4L428.0 855.8L422.7 857.0L418.9 856.4L415.1 855.9L414.2 855.9L415.4 857.9L415.1 859.3L412.0 859.0L409.9 859.0L408.2 859.8L409.8 861.3L408.7 861.9L405.2 862.8L402.2 862.3L400.8 861.3L400.6 859.8L398.4 859.0L398.1 858.2L401.4 858.8L406.7 859.8L410.5 859.0L410.8 857.5L409.0 856.7L406.7 856.1L402.9 855.2L399.1 854.6L396.1 854.0L392.3 852.9L390.0 852.1L387.4 852.0L383.2 852.7L377.8 853.3L374.0 854.9L371.0 856.4L368.7 857.8L367.2 859.8L364.9 861.4L362.8 863.4L358.1 865.1L355.8 866.6L356.0 868.9L356.7 870.6L358.2 871.8L360.7 871.8L363.4 870.4L364.6 869.2L365.2 870.6L366.1 872.0L367.4 874.5L366.9 874.8L365.7 875.2L364.8 874.4L363.9 873.6L364.3 872.4L362.6 873.2L360.7 873.8L360.5 875.6L361.4 876.7L361.7 878.0L360.7 878.8L358.8 879.0L356.6 879.1L355.3 879.7L354.7 880.8L353.5 881.9L352.0 882.5L350.6 882.8L350.5 883.8L348.5 884.8L346.2 884.6L345.3 884.6L345.9 886.1L343.6 886.0L341.1 886.6L341.8 887.5L344.4 888.3L346.4 889.9L346.4 892.4L345.8 894.2L342.4 894.1L339.1 893.9L335.7 893.8L334.1 894.8L334.7 896.4L334.8 898.6L333.8 901.2L334.8 902.6L334.5 904.0L336.8 903.7L338.6 904.3L339.7 905.5L339.2 905.8L338.6 906.9L337.7 908.5L335.3 909.8L333.6 911.6L333.3 913.9L331.5 916.5L328.7 918.0L326.2 920.4L324.6 923.0L323.4 924.6L322.4 927.6L323.1 929.9L323.6 932.2L323.1 935.5L321.6 938.0L322.7 939.8L322.8 941.6L324.6 942.9L326.2 944.4L328.0 945.9L329.2 948.5L331.0 950.0L333.8 952.3L336.8 953.7L340.6 952.6L345.2 953.1L349.7 951.4L352.0 950.8L355.0 950.8L357.0 953.5L358.8 953.7L361.1 953.4L362.6 954.6L363.1 956.6L362.6 958.9L362.2 961.2L363.4 964.2L365.7 966.5L366.4 968.0L367.2 969.5L368.0 975.6L368.0 978.7L409.0 978.7L409.8 975.6L407.9 971.1L407.5 968.0L409.0 965.0L411.3 962.7L413.6 959.6L417.4 957.4L420.4 953.5L422.7 950.5L425.0 945.9L426.0 942.4L422.7 943.2L418.1 944.1L415.1 944.5L414.0 942.9L414.0 941.3L414.3 941.0L416.6 940.9L421.2 939.0L424.2 937.5L427.5 936.6L430.3 934.8L432.6 933.7L434.5 932.2L436.1 930.7L437.6 929.1L439.1 926.1L437.1 924.4L434.8 923.8L433.9 921.5L433.8 920.3L434.1 919.1L435.3 921.1L438.6 921.7L441.8 922.0L444.7 922.0L449.3 921.7L450.3 922.6L452.3 924.6L453.8 925.6L455.4 925.5L453.1 926.4L454.9 928.4L458.4 927.6L458.7 927.3L459.0 929.9L458.9 931.4L459.8 935.2L461.0 937.8L461.9 940.9L463.3 943.3L464.2 945.9L466.0 948.0L467.1 946.8L468.7 944.7L469.6 942.9L470.3 939.8L470.0 936.8L472.1 935.4L473.4 934.5L475.9 932.5L478.2 930.4L480.4 928.7L482.3 927.5L484.2 927.0L485.8 926.2L487.7 926.2L488.5 928.4L489.6 930.2L491.4 932.6L491.7 935.7L493.1 936.3L494.9 935.1L496.4 935.1L496.7 937.5L497.9 940.6L497.6 945.1L497.6 947.9L499.7 950.5L500.7 952.8L501.7 955.8L504.0 957.5L505.5 958.4L506.7 958.3L505.5 954.8L505.4 952.3L503.5 950.9L502.2 949.9L500.7 947.6L499.9 945.1L499.0 942.9L500.2 940.6L501.6 940.0L501.7 941.0L503.7 941.8L504.8 943.6L507.0 944.4L507.8 946.7L510.4 945.1L512.4 943.6L514.2 942.1L514.3 939.8L513.6 937.1L511.1 934.9L509.6 932.9L508.9 931.4L510.1 929.4L511.6 927.6L513.1 927.5L514.9 927.6L515.7 929.6L516.2 928.1L518.0 927.5L520.7 926.5L521.9 926.2L524.5 925.5L526.8 924.1L528.6 922.9L529.8 921.4L530.3 919.5L531.4 918.0L533.3 916.2L533.6 913.4L532.9 912.1L531.8 910.5L531.1 908.1L529.5 907.0L530.9 905.5L532.1 904.6L534.4 903.7L532.9 903.2L531.4 903.1L529.1 903.7L528.3 902.4L527.0 901.5L527.6 900.6L529.5 900.2L532.1 898.2L533.0 899.4L532.4 901.2L533.9 900.5L535.9 899.7L537.1 899.6L538.2 900.2L538.7 902.4L540.5 903.2L540.5 905.5L540.2 907.6L542.0 907.6L544.3 906.9L545.0 905.5L544.9 903.7L543.5 901.7L542.0 899.9L544.0 898.2L545.5 897.1L546.9 895.9L548.8 894.5L551.1 895.1L554.2 893.6L557.2 891.0L559.5 888.3L561.5 886.0L561.8 883.4L563.0 880.6L561.8 879.1L558.7 878.2L556.4 878.0L555.7 877.1L553.7 877.0L557.2 874.7L560.2 872.7L563.3 870.9L566.3 869.8L570.1 870.0L573.9 870.0L577.7 870.3L580.0 870.4L583.0 869.8L583.8 868.1L586.8 866.3L591.4 866.2L596.0 865.2L595.2 867.4L592.2 869.2L588.4 872.0L586.1 873.5L585.0 875.8L585.3 879.6L586.4 882.6L588.8 880.3L591.4 878.0L594.4 875.3L596.4 872.3L594.7 871.6L597.5 869.2L600.8 868.3L605.1 868.1L608.1 867.7L611.2 866.6L615.0 865.9L618.0 865.1L620.7 865.4L620.7 863.6L618.5 862.0L619.5 861.6L621.8 861.3ZM254.1 858.7L251.7 861.3L248.6 862.2L249.9 864.5L248.6 865.9L244.8 865.2L239.5 864.6L235.7 862.2L230.4 862.0L229.6 861.0L236.5 860.1L237.7 857.8L234.2 856.2L228.9 853.6L225.1 854.0L217.5 853.3L212.9 852.4L211.4 851.4L214.4 848.3L219.0 848.0L225.8 848.0L231.9 849.5L237.2 850.9L241.8 852.6L244.8 853.3L246.4 854.9L244.8 855.8L248.3 856.9L251.7 858.2ZM216.7 862.3L219.8 860.2L222.8 861.7L225.8 862.8L222.0 863.4L218.2 864.0L216.0 863.3ZM167.3 851.8L169.6 849.5L174.9 848.6L181.8 849.5L186.3 848.9L189.4 851.4L192.4 852.6L194.7 853.6L191.6 855.5L185.6 855.2L178.0 854.6L171.1 854.3L168.8 852.9ZM157.6 850.8L158.2 848.2L162.0 846.9L168.8 847.4L172.6 848.5L165.8 850.9L160.8 851.8ZM170.4 844.5L178.0 843.3L187.1 844.7L184.8 846.0L178.0 846.8L171.1 846.2ZM208.1 844.0L214.4 843.6L225.8 844.2L225.1 846.0L214.4 846.8L208.4 846.3L207.6 845.0ZM212.2 843.4L222.0 843.9L229.6 843.9L233.4 841.0L238.0 840.2L237.2 838.7L244.8 837.5L252.4 836.0L254.0 834.6L241.8 833.7L229.6 833.8L217.5 834.9L209.9 836.9L203.0 838.4L204.6 839.9L210.6 840.7L214.4 841.8ZM202.3 839.2L209.9 837.6L211.4 839.2L205.3 841.0L200.8 840.7ZM194.7 847.5L201.5 847.7L200.3 850.6L196.2 851.4L192.4 849.8ZM203.8 847.5L210.6 847.7L206.8 850.3L203.0 849.8ZM193.2 843.7L200.8 844.0L199.2 845.6L193.2 845.3ZM162.8 843.7L170.4 842.5L171.9 844.2L165.8 844.7ZM190.1 840.4L196.2 840.2L198.5 841.5L193.2 842.1ZM202.3 845.3L206.1 845.1L206.1 846.5L202.3 846.3ZM197.7 854.3L201.5 854.0L203.0 855.5L199.2 856.1ZM237.2 841.5L244.8 844.5L257.0 844.5L263.1 846.8L266.1 852.1L269.9 855.2L266.9 859.0L270.7 862.8L274.5 866.6L280.6 868.9L282.8 868.1L285.9 864.3L290.4 860.5L299.6 856.7L310.2 854.4L314.8 852.1L314.0 849.1L319.3 846.8L320.8 843.0L319.3 839.2L330.0 836.1L317.8 834.6L302.6 833.1L279.8 834.6L257.0 835.4L246.4 837.6L238.8 839.9ZM311.7 860.5L314.8 859.1L323.9 859.0L327.7 861.0L325.4 862.3L320.8 863.7L314.0 863.1L314.8 861.6ZM258.1 887.8L263.1 887.8L266.7 889.2L268.1 887.8L266.9 886.4L266.9 884.9L263.8 884.5L263.8 881.9L262.3 881.9L260.8 883.4L259.3 885.7ZM160.6 886.7L158.5 886.3L155.9 885.1L153.2 882.9L155.2 883.1L158.2 884.1ZM219.2 927.0L222.0 925.5L225.1 925.0L227.4 925.9L230.4 927.5L233.3 928.4L235.4 929.6L233.0 930.1L230.1 930.1L229.6 928.7L226.6 927.2L223.6 926.4L220.5 927.2ZM235.1 932.0L237.5 930.1L241.8 930.4L244.4 932.0L241.8 932.6L239.5 933.6L237.2 932.9L235.1 932.5ZM229.2 932.3L232.2 932.6L231.5 933.3L229.6 932.8ZM246.1 932.2L248.5 932.5L248.3 932.9L246.1 932.9ZM111.2 929.6L112.4 930.2L112.8 930.7L111.7 931.6L111.1 930.5ZM110.0 928.4L111.1 928.5L110.8 929.0L110.0 928.7ZM107.6 927.5L108.5 927.8L108.2 928.1L107.7 927.9ZM105.3 926.5L106.1 926.5L105.9 927.0L105.5 927.0ZM235.7 898.5L238.8 897.7L238.9 898.0L236.5 898.5ZM250.2 884.3L254.4 885.1L254.0 885.5L250.9 884.6ZM250.5 889.3L254.0 889.5L253.2 890.2L250.9 889.9ZM87.1 863.1L91.3 863.9L90.6 864.5L87.5 864.0ZM113.4 871.6L116.9 872.0L114.9 873.9L113.4 873.2ZM146.0 877.7L148.3 878.8L148.3 880.8L146.8 879.9ZM339.5 884.0L343.6 883.2L350.2 882.5L350.8 880.0L348.7 878.8L347.4 877.3L345.8 875.6L344.7 874.2L345.5 872.6L343.2 871.0L340.6 871.0L338.8 872.7L339.7 874.5L338.8 875.8L340.8 876.8L343.3 876.7L343.0 877.6L343.6 879.0L341.2 879.1L342.0 880.6L340.3 881.4L342.9 881.9L341.7 882.3ZM339.1 880.8L339.1 878.5L339.8 877.1L338.3 876.1L335.6 876.2L335.3 877.6L333.0 877.7L333.3 879.1L332.5 881.1L333.8 881.7L336.0 881.4L338.5 880.8ZM364.9 840.7L368.0 838.9L374.0 838.4L381.6 837.8L389.2 838.2L383.9 839.9L380.9 841.1L375.6 843.0L372.5 843.7L369.5 842.7L368.0 841.5ZM427.2 851.4L432.6 848.6L434.8 846.0L440.9 844.2L448.5 843.1L452.3 843.4L445.5 845.6L437.9 847.5L434.5 849.4L433.0 852.1L435.6 852.7L429.5 852.6ZM419.6 837.2L427.2 836.4L436.4 835.8L444.0 836.6L439.4 837.8L430.3 838.4L422.7 837.9ZM492.6 839.2L497.2 837.2L503.2 836.6L507.8 837.9L506.3 839.9L500.2 841.1L495.6 840.2ZM554.9 845.3L562.5 844.5L568.6 845.3L576.2 845.6L573.2 846.5L564.0 847.7L558.0 847.5ZM619.5 851.4L621.8 851.2L621.8 852.3L619.8 852.4ZM564.0 890.2L566.3 889.5L565.6 884.9L567.8 885.7L565.9 881.9L566.0 879.3L565.0 877.6L563.6 878.8L564.3 882.6L563.9 887.2L563.9 889.5ZM561.0 897.1L562.8 896.7L565.9 896.4L569.8 894.4L568.9 892.8L564.0 891.0L563.4 893.3L563.1 894.5L561.3 895.1ZM547.2 908.5L549.6 906.3L552.6 906.1L554.9 905.8L556.1 903.7L557.2 904.3L559.5 902.6L560.7 900.2L561.0 898.2L562.4 897.1L563.3 898.6L564.0 900.6L562.5 902.1L562.4 904.1L561.9 906.0L560.7 907.0L559.2 907.6L556.4 907.6L556.1 908.1L554.6 909.3L553.4 907.8L550.4 907.9L547.3 908.7ZM545.5 909.3L547.3 908.7L548.8 910.1L547.8 912.5L546.6 913.0L545.8 910.8ZM549.6 909.6L552.9 908.2L552.3 909.6L550.4 910.5ZM530.8 925.3L532.1 922.0L533.6 922.3L532.7 926.1L531.8 927.0ZM513.3 931.1L515.4 929.7L516.9 930.5L515.4 932.5L513.4 932.2ZM530.6 932.2L533.9 932.2L533.6 936.0L536.7 939.4L532.9 939.4L531.4 938.3L530.6 935.5ZM533.6 949.7L535.9 947.3L539.0 945.6L540.5 949.7L539.0 951.7L536.7 950.5ZM533.6 942.3L535.5 943.3L534.4 944.4L533.5 944.2ZM537.1 941.3L539.3 941.8L538.5 944.8L537.3 944.4ZM534.4 943.8L535.9 944.4L535.2 946.5L534.4 945.6ZM526.3 947.6L530.0 943.3L530.3 943.9L527.1 947.7ZM513.9 958.1L514.9 957.4L517.7 956.3L520.0 955.5L522.2 953.4L524.5 951.2L526.3 949.7L528.3 952.0L529.5 952.6L527.6 953.8L527.1 955.8L527.6 958.9L526.8 960.4L526.3 961.9L525.3 964.2L524.5 966.5L522.2 966.7L520.0 965.3L516.9 965.0L515.7 964.7L515.4 962.7L514.2 960.4ZM493.1 951.9L496.4 952.5L497.9 954.3L500.7 957.0L502.5 957.8L505.8 961.2L507.0 963.1L509.3 965.0L509.3 969.4L507.0 969.2L503.5 966.5L501.7 964.2L500.2 961.6L498.2 957.7L496.4 955.8L494.1 953.5ZM529.8 968.8L529.7 965.7L528.8 964.5L530.3 959.6L531.4 959.2L535.2 959.0L537.9 958.1L537.3 959.8L532.9 959.6L531.4 961.6L532.9 961.9L535.6 961.8L532.9 963.3L534.4 967.3L532.1 964.7L531.4 964.8L531.2 968.8ZM542.0 961.2L543.1 958.1L543.8 957.0L542.8 959.6L543.8 960.4L542.8 961.6ZM547.3 962.4L548.8 961.0L551.9 961.8L552.2 964.2L554.2 965.4L557.2 962.7L559.5 963.8L562.5 964.4L567.1 966.2L569.7 967.3L570.1 968.8L572.4 969.5L576.2 978.7L547.3 978.7ZM469.5 950.9L469.5 947.4L470.1 945.5L471.3 947.4L472.5 949.3L472.2 950.6L470.7 951.4ZM397.3 907.0L398.4 906.4L400.8 906.0L399.9 907.2L398.4 907.6ZM383.9 906.6L388.2 906.6L388.0 907.0L384.1 906.7ZM367.0 902.3L371.9 902.0L371.2 904.4L367.2 903.1ZM361.0 900.9L360.7 897.9L362.3 897.6L363.1 898.6L362.8 900.8ZM361.3 897.1L362.2 897.3L362.6 894.8L361.4 895.4ZM429.2 941.2L431.0 941.2L430.6 941.6L429.5 941.6ZM364.9 876.1L367.2 875.6L366.9 874.8L365.2 875.2ZM363.1 875.9L364.5 875.8L364.2 876.5L363.4 876.4ZM93.4 878.2L95.0 877.7L96.5 878.2L95.0 878.7ZM90.3 879.6L91.6 879.0L93.0 879.6L91.6 880.1ZM88.3 880.0L89.0 879.5L89.8 880.0L89.0 880.6ZM84.0 880.6L85.5 880.1L87.1 880.6L85.5 881.2ZM81.4 880.9L82.8 880.4L84.2 880.9L82.8 881.5ZM78.6 881.3L79.8 880.7L81.0 881.3L79.8 881.8ZM76.3 881.4L77.3 880.9L78.4 881.4L77.3 881.9ZM74.8 881.9L75.4 881.3L76.0 881.9L75.4 882.4ZM100.4 877.3L101.2 876.8L102.0 877.3L101.2 877.8ZM104.2 876.1L105.0 875.5L105.8 876.1L105.0 876.6ZM618.6 881.4L619.5 880.9L620.4 881.4L619.5 881.9ZM616.9 881.1L617.7 880.6L618.5 881.1L617.7 881.6ZM610.1 879.9L611.6 879.3L613.1 879.9L611.6 880.4ZM612.7 880.5L613.4 880.0L614.2 880.5L613.4 881.0ZM569.8 893.6L570.9 893.1L571.9 893.6L570.9 894.1ZM571.8 892.4L572.9 891.9L573.9 892.4L572.9 892.8ZM573.6 891.2L574.7 890.7L575.7 891.2L574.7 891.6ZM575.9 889.9L577.0 889.5L578.0 889.9L577.0 890.4ZM578.2 888.4L579.2 888.0L580.3 888.4L579.2 888.9ZM580.5 886.9L581.5 886.4L582.6 886.9L581.5 887.4ZM582.0 885.4L583.0 884.9L584.1 885.4L583.0 885.8ZM584.0 883.7L585.0 883.2L586.1 883.7L585.0 884.1ZM599.2 876.4L600.5 875.9L601.9 876.4L600.5 876.8ZM229.0 923.0L229.9 922.5L230.9 923.0L229.9 923.6ZM231.0 922.0L231.9 921.4L232.8 922.0L231.9 922.5ZM229.5 919.8L230.4 919.3L231.3 919.8L230.4 920.4ZM232.1 924.6L233.0 924.0L233.9 924.6L233.0 925.1ZM234.0 926.1L235.0 925.6L235.9 926.1L235.0 926.6ZM235.6 928.1L236.5 927.5L237.4 928.1L236.5 928.6ZM254.5 936.9L255.0 936.4L255.6 936.9L255.0 937.4ZM254.9 938.1L255.5 937.6L256.0 938.1L255.5 938.7ZM254.0 935.7L254.6 935.2L255.1 935.7L254.6 936.2ZM253.7 934.3L254.3 933.8L254.8 934.3L254.3 934.9ZM254.6 940.3L255.2 939.7L255.7 940.3L255.2 940.8ZM254.0 941.9L254.6 941.4L255.1 941.9L254.6 942.5ZM254.5 944.2L255.0 943.7L255.6 944.2L255.0 944.8ZM251.9 932.6L252.4 932.1L253.0 932.6L252.4 933.2ZM249.3 932.3L249.9 931.8L250.4 932.3L249.9 932.9ZM324.0 917.7L324.6 917.2L325.3 917.7L324.6 918.2ZM322.3 917.4L323.0 916.9L323.7 917.4L323.0 917.9ZM326.2 916.9L326.9 916.4L327.6 916.9L326.9 917.5ZM327.0 916.2L327.7 915.6L328.4 916.2L327.7 916.7ZM320.5 916.8L321.1 916.3L321.8 916.8L321.1 917.3ZM321.7 910.5L322.4 910.0L323.0 910.5L322.4 911.1ZM311.8 937.5L312.5 937.0L313.2 937.5L312.5 938.1ZM310.6 935.1L311.3 934.6L311.9 935.1L311.3 935.6ZM309.5 934.5L310.2 933.9L310.9 934.5L310.2 935.0ZM312.9 935.8L313.5 935.3L314.2 935.8L313.5 936.4ZM305.0 901.5L305.6 901.0L306.3 901.5L305.6 902.1ZM308.8 902.8L309.4 902.2L310.1 902.8L309.4 903.3ZM300.2 900.3L300.9 899.8L301.6 900.3L300.9 900.8ZM336.6 865.7L337.6 865.2L338.5 865.7L337.6 866.2ZM345.3 868.4L346.2 868.0L347.1 868.4L346.2 868.9ZM342.7 870.4L343.6 870.0L344.6 870.4L343.6 870.9ZM367.8 856.4L368.7 855.9L369.6 856.4L368.7 856.9ZM370.1 855.5L371.0 855.0L371.9 855.5L371.0 855.9ZM104.1 927.0L104.7 926.5L105.3 927.0L104.7 927.5ZM109.0 928.2L109.6 927.8L110.2 928.2L109.6 928.7ZM101.5 925.3L102.1 924.9L102.7 925.3L102.1 925.8ZM94.8 924.0L95.4 923.5L96.0 924.0L95.4 924.4ZM90.0 934.9L90.6 934.5L91.2 934.9L90.6 935.4ZM86.6 949.6L87.2 949.1L87.8 949.6L87.2 950.0ZM92.7 947.0L93.3 946.5L93.9 947.0L93.3 947.4ZM88.9 943.3L89.5 942.9L90.1 943.3L89.5 943.8ZM91.2 938.1L91.8 937.7L92.4 938.1L91.8 938.6ZM79.2 960.1L79.8 959.6L80.4 960.1L79.8 960.6ZM101.2 951.4L101.8 950.9L102.4 951.4L101.8 951.9ZM569.1 937.2L569.7 936.8L570.3 937.2L569.7 937.7ZM567.7 940.0L568.3 939.5L568.9 940.0L568.3 940.4ZM569.2 932.9L569.8 932.5L570.4 932.9L569.8 933.4ZM552.0 949.1L552.6 948.7L553.2 949.1L552.6 949.6ZM557.5 945.9L558.1 945.5L558.7 945.9L558.1 946.4ZM578.3 949.1L578.9 948.7L579.5 949.1L578.9 949.6ZM588.1 949.9L588.7 949.4L589.3 949.9L588.7 950.3ZM595.4 952.3L596.0 951.9L596.6 952.3L596.0 952.8ZM608.1 949.6L608.7 949.1L609.3 949.6L608.7 950.0ZM605.2 951.6L605.8 951.1L606.4 951.6L605.8 952.0ZM610.6 958.4L611.2 958.0L611.8 958.4L611.2 958.9ZM602.5 946.4L603.1 945.9L603.7 946.4L603.1 946.8ZM580.9 967.1L581.5 966.7L582.1 967.1L581.5 967.6ZM578.6 966.5L579.2 966.0L579.8 966.5L579.2 967.0ZM576.4 964.4L577.0 963.9L577.6 964.4L577.0 964.8ZM571.0 963.6L571.6 963.1L572.2 963.6L571.6 964.1ZM210.0 961.2L210.6 960.7L211.2 961.2L210.6 961.6ZM208.8 961.6L209.4 961.2L210.0 961.6L209.4 962.1ZM226.0 962.7L226.6 962.2L227.2 962.7L226.6 963.1ZM488.6 941.3L489.1 940.8L489.6 941.3L489.1 941.9ZM488.7 942.9L489.3 942.3L489.8 942.9L489.3 943.4ZM489.8 948.2L490.3 947.7L490.9 948.2L490.3 948.7ZM459.4 954.3L459.9 953.8L460.5 954.3L459.9 954.8ZM459.2 956.6L459.8 956.1L460.3 956.6L459.8 957.1ZM459.4 951.2L459.9 950.7L460.5 951.2L459.9 951.8ZM458.2 943.6L458.7 943.1L459.2 943.6L458.7 944.2ZM432.0 967.4L432.6 966.9L433.1 967.4L432.6 967.9ZM435.1 961.2L435.6 960.6L436.1 961.2L435.6 961.7ZM352.0 900.0L352.8 899.6L353.5 900.0L352.8 900.5ZM349.6 901.1L350.3 900.6L351.1 901.1L350.3 901.5ZM353.7 899.4L354.4 898.9L355.2 899.4L354.4 899.9ZM390.0 905.2L390.8 904.7L391.5 905.2L390.8 905.7ZM369.3 905.7L370.1 905.2L370.8 905.7L370.1 906.1ZM384.7 898.3L385.4 897.9L386.2 898.3L385.4 898.8ZM386.2 899.4L387.0 898.9L387.7 899.4L387.0 899.9ZM508.1 963.8L509.3 963.1L510.5 963.8L509.3 964.4ZM543.8 965.1L545.0 964.4L546.3 965.1L545.0 965.8ZM539.4 965.6L540.6 964.9L541.8 965.6L540.6 966.3ZM540.8 961.3L542.0 960.6L543.2 961.3L542.0 962.0ZM539.7 954.1L540.9 953.5L542.2 954.1L540.9 954.8ZM537.7 955.1L539.0 954.4L540.2 955.1L539.0 955.7ZM511.4 954.3L512.7 953.6L513.9 954.3L512.7 955.0ZM495.3 958.7L496.6 958.0L497.8 958.7L496.6 959.4ZM493.1 956.4L494.3 955.7L495.5 956.4L494.3 957.1ZM545.8 961.3L547.0 960.6L548.2 961.3L547.0 962.0ZM546.4 962.2L547.6 961.5L548.8 962.2L547.6 962.9ZM334.1 852.1L335.3 851.7L336.5 852.1L335.3 852.6ZM375.9 846.9L377.1 846.5L378.3 846.9L377.1 847.4ZM383.5 842.1L384.7 841.6L385.9 842.1L384.7 842.5ZM389.5 840.2L390.8 839.8L392.0 840.2L390.8 840.7Z" fill="none" stroke="#858585" stroke-width="0.6"/>
<path d="M339.7 905.5L341.4 904.4L345.2 904.3L347.7 901.7L348.5 899.7L349.7 897.9L353.1 896.5L352.9 894.7L355.0 894.2L358.1 894.7L360.4 893.5L362.6 893.0L364.2 894.8L366.4 896.5L369.5 898.2L372.1 899.6L372.5 902.0L371.9 902.4L373.3 901.2L374.3 900.3L373.3 898.6L376.3 899.2L374.0 897.9L371.8 896.4L368.9 894.1L366.9 892.5L367.0 891.0L369.0 890.7L369.2 892.1L371.8 894.1L374.8 895.1L377.7 896.7L377.7 898.9L379.4 900.2L380.4 902.8L381.3 904.3L382.4 904.9L383.5 904.6L383.2 903.1L384.7 902.8L383.9 901.7L383.0 900.3L383.8 899.1L385.4 898.0L387.7 898.2L388.5 899.1L388.0 900.3L388.9 901.7L389.5 903.4L390.8 904.3L393.0 905.2L394.6 904.7L396.8 905.3L399.9 905.0L402.6 904.4L402.8 906.3L402.2 908.9L401.1 911.0L400.2 912.7L397.6 913.0L395.3 912.4L393.0 913.3L390.0 912.5L386.2 911.9L383.2 910.8L380.9 910.2L378.8 911.6L378.6 913.3L377.1 914.2L374.8 913.1L371.8 911.8L368.0 910.2L365.2 909.6L363.9 908.5L364.9 906.6L364.2 904.7L364.9 903.8L363.4 903.5L361.1 904.1L357.3 904.0L353.5 904.3L349.7 904.9L346.7 906.0L344.4 906.7L340.1 905.7ZM390.8 897.0L391.5 894.4L393.0 891.8L394.6 889.6L396.5 889.5L398.4 890.2L397.6 891.2L399.1 892.5L401.4 892.1L403.7 891.5L402.2 890.9L404.1 889.0L407.8 888.4L406.3 889.9L405.2 891.3L404.0 891.6L406.0 892.5L408.5 893.9L411.3 896.4L411.4 897.1L409.0 898.0L406.0 897.9L402.9 897.0L401.4 896.4L398.4 896.4L395.3 897.6L392.6 897.6ZM420.4 892.5L420.4 894.8L421.9 896.7L423.4 898.6L422.7 900.9L422.7 903.2L425.0 904.0L429.5 904.1L430.1 901.7L428.8 900.2L428.8 898.6L431.0 898.2L428.5 896.7L428.0 895.1L426.2 894.5L426.2 892.5L424.7 892.4L425.7 891.0L428.8 891.3L429.1 889.5L426.5 888.7L423.4 889.5L421.9 889.2L420.1 890.6ZM414.0 941.2L412.0 939.4L408.2 936.8L406.7 932.9L404.9 928.4L403.7 925.3L402.2 923.8L399.9 920.0L397.8 914.8L398.7 917.4L400.3 918.0L401.2 915.4L401.7 917.7L403.7 920.8L406.0 923.8L407.8 927.6L410.2 931.4L412.3 935.2L413.6 938.3L414.3 941.0ZM433.8 920.4L432.6 921.5L431.0 923.5L427.2 923.8L426.6 922.0L426.0 920.6L425.3 922.6L424.5 921.1L423.6 919.2L421.9 917.2L421.2 914.8L422.5 914.2L424.5 914.8L425.7 916.9L428.0 918.5L430.3 919.7L432.6 919.7L434.1 919.1ZM367.7 875.6L369.8 875.9L372.5 874.7L373.3 872.7L373.6 871.0L376.3 870.0L376.8 868.6L374.3 867.4L374.8 865.1L377.8 863.6L380.6 862.3L382.1 860.1L384.7 860.1L386.7 861.1L385.4 862.6L381.6 864.3L380.6 866.6L381.3 868.1L383.2 869.1L387.0 868.4L390.8 868.1L393.8 869.1L390.8 869.7L386.2 869.7L383.9 870.1L383.9 871.5L385.1 871.6L385.4 873.2L383.9 873.3L382.4 872.4L380.9 872.7L380.1 874.7L380.4 876.1L378.4 877.0L376.8 877.4L374.8 876.8L371.0 877.9L368.7 877.3L366.4 877.7L364.9 878.2L364.6 877.3L363.6 876.8L363.7 875.6L364.9 876.1L367.2 875.6ZM208.2 889.2L211.4 889.3L214.4 888.3L219.0 889.0L219.6 889.5L219.3 887.7L216.7 886.1L213.7 886.3L211.4 887.2ZM214.7 896.4L215.2 897.0L216.9 896.0L217.2 893.6L218.4 891.5L219.3 890.6L216.7 890.6L214.7 892.5ZM219.8 890.4L221.6 890.1L224.3 890.4L226.1 891.2L226.9 892.4L224.3 892.5L224.0 894.4L222.8 894.8L221.4 893.3L222.8 891.9L220.1 891.2ZM221.3 896.8L223.6 897.1L226.6 896.0L228.3 895.1L225.8 895.3L222.8 896.2ZM226.9 894.4L232.4 894.2L232.1 893.0L230.4 893.3L227.5 893.8ZM198.0 878.4L200.3 878.8L201.7 881.7L201.1 883.5L200.2 883.2L198.9 880.8ZM170.4 866.9L175.5 865.5L179.5 864.9L177.2 866.3L171.9 867.7ZM158.2 860.8L161.2 859.0L166.6 858.5L165.5 860.1L162.8 861.4ZM436.8 889.9L438.8 889.3L441.2 889.9L441.8 891.8L439.4 893.9L437.1 893.0ZM506.0 881.7L507.5 881.9L510.1 880.2L514.6 875.5L514.2 875.2L512.4 877.3L508.6 880.2Z" fill="#fff" stroke="#858585" stroke-width="0.6"/></g>
<text x="66.8" y="832.65" font-size="18.2" text-anchor="end" font-weight="normal" >90<tspan dy="-8.8" font-size="14">o</tspan><tspan dy="8.8">N</tspan></text>
<text x="66.8" y="878.4" font-size="18.2" text-anchor="end" font-weight="normal" >60<tspan dy="-8.8" font-size="14">o</tspan><tspan dy="8.8">N</tspan></text>
<text x="66.8" y="924.15" font-size="18.2" text-anchor="end" font-weight="normal" >30<tspan dy="-8.8" font-size="14">o</tspan><tspan dy="8.8">N</tspan></text>
<text x="67.5" y="969.9" font-size="18.2" text-anchor="end" font-weight="normal" >0<tspan dy="-8.8" font-size="14">o</tspan></text>
<text x="74.6" y="997.3" font-size="18.2" text-anchor="middle" font-weight="normal" >180<tspan dy="-8.8" font-size="14">o</tspan></text>
<text x="165.8" y="997.3" font-size="18.2" text-anchor="middle" font-weight="normal" >120<tspan dy="-8.8" font-size="14">o</tspan><tspan dy="8.8">W</tspan></text>
<text x="257" y="997.3" font-size="18.2" text-anchor="middle" font-weight="normal" >60<tspan dy="-8.8" font-size="14">o</tspan><tspan dy="8.8">W</tspan></text>
<text x="348.2" y="991.7" font-size="18.2" text-anchor="middle" font-weight="normal" >0</text>
<text x="439.4" y="997.3" font-size="18.2" text-anchor="middle" font-weight="normal" >60<tspan dy="-8.8" font-size="14">o</tspan><tspan dy="8.8">E</tspan></text>
<text x="530.6" y="997.3" font-size="18.2" text-anchor="middle" font-weight="normal" >120<tspan dy="-8.8" font-size="14">o</tspan><tspan dy="8.8">E</tspan></text>
<text x="621.8" y="997.3" font-size="18.2" text-anchor="middle" font-weight="normal" >180<tspan dy="-8.8" font-size="14">o</tspan></text>
<path transform="translate(86.1,832.6)" fill="#000" d="M13.2 11.8C12 14.8 9.8 16.6 7.3 16.6C3 16.6 0 13.3 0 8.5C0 3.6 3.4 0 8 0C11.3 0 13.6 1.8 13.6 3.9C13.6 5.3 12.6 6.3 11.2 6.3C9.8 6.3 9 5.4 8.8 4.2C8.6 2.6 8.2 1.3 7.1 1.3C5.6 1.3 4.8 3.4 4.8 7.3C4.8 11.6 6.4 14 9.2 14C10.8 14 12 13.2 12.9 11.5Z"/>
<text x="13.7" y="1026" font-size="18.2" text-anchor="start" font-weight="normal" >Decadal trends in future snow drought frequency (D4) under SSP245 (10<tspan dy="-9.3" font-size="14">-2</tspan><tspan dy="9.3"> events decade</tspan><tspan dy="-9.3" font-size="14">-1</tspan><tspan dy="9.3">)</tspan></text>
<defs><linearGradient id="cb" x1="0" x2="1" y1="0" y2="0"><stop offset="0" stop-color="#9a9ad8"/><stop offset="0.004" stop-color="#9a9ad8"/><stop offset="0.0045" stop-color="#7878f0"/><stop offset="0.0125" stop-color="#7878f0"/><stop offset="0.013" stop-color="#5050ff"/><stop offset="0.25" stop-color="#8c8ce0"/><stop offset="0.375" stop-color="#c2c2cf"/><stop offset="0.49" stop-color="#ecf8c2"/><stop offset="0.4995" stop-color="#f2ffc0"/><stop offset="0.5005" stop-color="#ffffff"/><stop offset="0.625" stop-color="#eec4c6"/><stop offset="0.75" stop-color="#e69496"/><stop offset="0.875" stop-color="#e26a6a"/><stop offset="1" stop-color="#de4444"/></linearGradient><clipPath id="mclip"><rect x="74.6" y="824" width="547.2" height="143.7"/></clipPath></defs>
<rect x="74.3" y="1035.5" width="547.4" height="18.3" fill="url(#cb)" stroke="#555" stroke-width="1" />
<text x="74.3" y="1075" font-size="15" text-anchor="middle" font-weight="normal" >-4</text>
<line x1="142.73" y1="1053.6" x2="142.73" y2="1049" stroke="#555" stroke-width="1" />
<text x="142.73" y="1075" font-size="15" text-anchor="middle" font-weight="normal" >-3</text>
<line x1="211.15" y1="1053.6" x2="211.15" y2="1049" stroke="#555" stroke-width="1" />
<text x="211.15" y="1075" font-size="15" text-anchor="middle" font-weight="normal" >-2</text>
<line x1="279.58" y1="1053.6" x2="279.58" y2="1049" stroke="#555" stroke-width="1" />
<text x="279.58" y="1075" font-size="15" text-anchor="middle" font-weight="normal" >-1</text>
<line x1="348" y1="1053.6" x2="348" y2="1049" stroke="#555" stroke-width="1" />
<text x="348" y="1075" font-size="15" text-anchor="middle" font-weight="normal" >0</text>
<line x1="416.43" y1="1053.6" x2="416.43" y2="1049" stroke="#555" stroke-width="1" />
<text x="416.43" y="1075" font-size="15" text-anchor="middle" font-weight="normal" >1</text>
<line x1="484.85" y1="1053.6" x2="484.85" y2="1049" stroke="#555" stroke-width="1" />
<text x="484.85" y="1075" font-size="15" text-anchor="middle" font-weight="normal" >2</text>
<line x1="553.28" y1="1053.6" x2="553.28" y2="1049" stroke="#555" stroke-width="1" />
<text x="553.28" y="1075" font-size="15" text-anchor="middle" font-weight="normal" >3</text>
<text x="621.7" y="1075" font-size="15" text-anchor="middle" font-weight="normal" >4</text></svg></body></html>
